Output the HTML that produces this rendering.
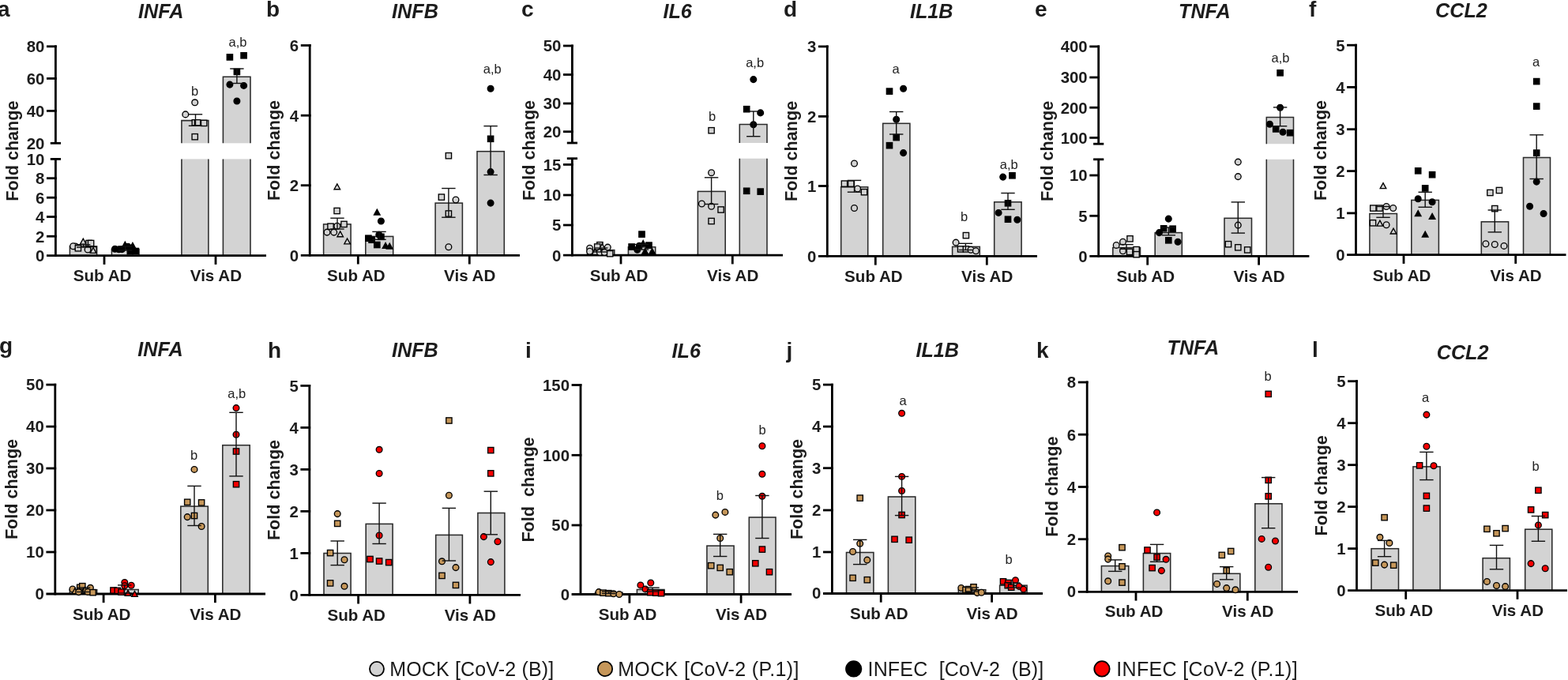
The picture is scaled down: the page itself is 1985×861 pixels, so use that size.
<!DOCTYPE html>
<html><head><meta charset="utf-8"><title>Figure</title>
<style>html,body{margin:0;padding:0;background:#fff;} svg{display:block;} text{font-family:"Liberation Sans", Arial, Helvetica, sans-serif;}</style>
</head><body>
<svg width="1985" height="861" viewBox="0 0 1985 861">
<rect width="1985" height="861" fill="#fff"/>
<text x="-3" y="21" font-size="28" font-weight="bold" text-anchor="start" fill="#1c1c1c">a</text>
<text x="203.7" y="22.9" font-size="25.2" font-weight="bold" text-anchor="middle" font-style="italic" fill="#1c1c1c">INFA</text>
<rect x="88.4" y="311.9" width="34.2" height="11.8" fill="#d3d3d3" stroke="#2b2b2b" stroke-width="1.55"/>
<rect x="141.4" y="315.5" width="34.6" height="8.2" fill="#d3d3d3" stroke="#2b2b2b" stroke-width="1.55"/>
<rect x="229.9" y="152.6" width="34" height="28.7" fill="#d3d3d3"/>
<rect x="229.9" y="201.4" width="34" height="122.3" fill="#d3d3d3"/>
<path d="M229.9,181.3V152.6H263.9V181.3M229.9,201.4V323.7M263.9,201.4V323.7" fill="none" stroke="#2b2b2b" stroke-width="1.55"/>
<rect x="282.4" y="97.3" width="34.6" height="84" fill="#d3d3d3"/>
<rect x="282.4" y="201.4" width="34.6" height="122.3" fill="#d3d3d3"/>
<path d="M282.4,181.3V97.3H317V181.3M282.4,201.4V323.7M317,201.4V323.7" fill="none" stroke="#2b2b2b" stroke-width="1.55"/>
<line x1="70.4" y1="325.1" x2="70.4" y2="201.4" stroke="#000" stroke-width="2.8"/>
<line x1="70.4" y1="181.3" x2="70.4" y2="57.4" stroke="#000" stroke-width="2.8"/>
<line x1="63.8" y1="181.3" x2="77" y2="181.3" stroke="#000" stroke-width="2.8"/>
<line x1="63.8" y1="201.4" x2="77" y2="201.4" stroke="#000" stroke-width="2.8"/>
<line x1="59" y1="58.8" x2="71.8" y2="58.8" stroke="#000" stroke-width="2.8"/>
<text x="56.4" y="66.1" font-size="20.4" font-weight="bold" text-anchor="end" fill="#1c1c1c">80</text>
<line x1="59" y1="99.4" x2="71.8" y2="99.4" stroke="#000" stroke-width="2.8"/>
<text x="56.4" y="106.7" font-size="20.4" font-weight="bold" text-anchor="end" fill="#1c1c1c">60</text>
<line x1="59" y1="140.4" x2="71.8" y2="140.4" stroke="#000" stroke-width="2.8"/>
<text x="56.4" y="147.7" font-size="20.4" font-weight="bold" text-anchor="end" fill="#1c1c1c">40</text>
<text x="56.4" y="188.6" font-size="20.4" font-weight="bold" text-anchor="end" fill="#1c1c1c">20</text>
<text x="56.4" y="208.7" font-size="20.4" font-weight="bold" text-anchor="end" fill="#1c1c1c">10</text>
<line x1="59" y1="225.7" x2="71.8" y2="225.7" stroke="#000" stroke-width="2.8"/>
<text x="56.4" y="233" font-size="20.4" font-weight="bold" text-anchor="end" fill="#1c1c1c">8</text>
<line x1="59" y1="250.2" x2="71.8" y2="250.2" stroke="#000" stroke-width="2.8"/>
<text x="56.4" y="257.5" font-size="20.4" font-weight="bold" text-anchor="end" fill="#1c1c1c">6</text>
<line x1="59" y1="274.5" x2="71.8" y2="274.5" stroke="#000" stroke-width="2.8"/>
<text x="56.4" y="281.8" font-size="20.4" font-weight="bold" text-anchor="end" fill="#1c1c1c">4</text>
<line x1="59" y1="299.2" x2="71.8" y2="299.2" stroke="#000" stroke-width="2.8"/>
<text x="56.4" y="306.5" font-size="20.4" font-weight="bold" text-anchor="end" fill="#1c1c1c">2</text>
<text x="56.4" y="331" font-size="20.4" font-weight="bold" text-anchor="end" fill="#1c1c1c">0</text>
<line x1="59" y1="323.7" x2="337" y2="323.7" stroke="#000" stroke-width="2.8"/>
<line x1="132" y1="323.7" x2="132" y2="334.9" stroke="#000" stroke-width="2.8"/>
<line x1="273" y1="323.7" x2="273" y2="334.9" stroke="#000" stroke-width="2.8"/>
<circle cx="95.5" cy="312" r="3.85" fill="#d3d3d3" stroke="#000" stroke-width="1.35"/>
<circle cx="92.6" cy="311.7" r="3.85" fill="#d3d3d3" stroke="#000" stroke-width="1.35"/>
<rect x="95.25" y="310.65" width="7.3" height="7.3" fill="#d3d3d3" stroke="#000" stroke-width="1.35"/>
<polygon points="105.3,302.2 109.1,309.1 101.5,309.1" fill="#d3d3d3" stroke="#000" stroke-width="1.35" stroke-linejoin="miter"/>
<rect x="108.85" y="304.35" width="7.3" height="7.3" fill="#d3d3d3" stroke="#000" stroke-width="1.35"/>
<rect x="111.45" y="304.35" width="7.3" height="7.3" fill="#d3d3d3" stroke="#000" stroke-width="1.35"/>
<circle cx="111.1" cy="316" r="3.85" fill="#d3d3d3" stroke="#000" stroke-width="1.35"/>
<rect x="114.85" y="312.55" width="7.3" height="7.3" fill="#d3d3d3" stroke="#000" stroke-width="1.35"/>
<polygon points="118,313.4 121.8,320.3 114.2,320.3" fill="#d3d3d3" stroke="#000" stroke-width="1.35" stroke-linejoin="miter"/>
<circle cx="145.5" cy="315.3" r="3.85" fill="#000000" stroke="#000" stroke-width="1.35"/>
<circle cx="150.5" cy="315.8" r="3.85" fill="#000000" stroke="#000" stroke-width="1.35"/>
<circle cx="154.5" cy="315.6" r="3.85" fill="#000000" stroke="#000" stroke-width="1.35"/>
<polygon points="158.3,306.2 162.1,313.1 154.5,313.1" fill="#000000" stroke="#000" stroke-width="1.35" stroke-linejoin="miter"/>
<circle cx="162" cy="312.3" r="3.85" fill="#000000" stroke="#000" stroke-width="1.35"/>
<polygon points="167.9,307.4 171.7,314.3 164.1,314.3" fill="#000000" stroke="#000" stroke-width="1.35" stroke-linejoin="miter"/>
<rect x="161.15" y="314.55" width="7.3" height="7.3" fill="#000000" stroke="#000" stroke-width="1.35"/>
<rect x="168.15" y="314.35" width="7.3" height="7.3" fill="#000000" stroke="#000" stroke-width="1.35"/>
<circle cx="246.7" cy="129.8" r="3.85" fill="#d3d3d3" stroke="#000" stroke-width="1.35"/>
<circle cx="234.8" cy="144.9" r="3.85" fill="#d3d3d3" stroke="#000" stroke-width="1.35"/>
<rect x="243.15" y="151.65" width="7.3" height="7.3" fill="#d3d3d3" stroke="#000" stroke-width="1.35"/>
<rect x="246.35" y="151.65" width="7.3" height="7.3" fill="#d3d3d3" stroke="#000" stroke-width="1.35"/>
<rect x="254.55" y="152.25" width="7.3" height="7.3" fill="#d3d3d3" stroke="#000" stroke-width="1.35"/>
<rect x="243.05" y="169.55" width="7.3" height="7.3" fill="#d3d3d3" stroke="#000" stroke-width="1.35"/>
<rect x="287.25" y="68.75" width="7.3" height="7.3" fill="#000000" stroke="#000" stroke-width="1.35"/>
<rect x="304.95" y="66.65" width="7.3" height="7.3" fill="#000000" stroke="#000" stroke-width="1.35"/>
<rect x="296.25" y="87.25" width="7.3" height="7.3" fill="#000000" stroke="#000" stroke-width="1.35"/>
<circle cx="290.9" cy="107.1" r="3.85" fill="#000000" stroke="#000" stroke-width="1.35"/>
<circle cx="308.6" cy="108.4" r="3.85" fill="#000000" stroke="#000" stroke-width="1.35"/>
<circle cx="299.9" cy="128" r="3.85" fill="#000000" stroke="#000" stroke-width="1.35"/>
<line x1="105.7" y1="309.7" x2="105.7" y2="313.1" stroke="#111" stroke-width="1.4"/>
<line x1="97" y1="309.7" x2="114.4" y2="309.7" stroke="#111" stroke-width="1.4"/>
<line x1="97" y1="313.1" x2="114.4" y2="313.1" stroke="#111" stroke-width="1.4"/>
<line x1="158.6" y1="312" x2="158.6" y2="317" stroke="#111" stroke-width="1.4"/>
<line x1="149.9" y1="312" x2="167.3" y2="312" stroke="#111" stroke-width="1.4"/>
<line x1="149.9" y1="317" x2="167.3" y2="317" stroke="#111" stroke-width="1.4"/>
<line x1="247.5" y1="144.8" x2="247.5" y2="159.3" stroke="#111" stroke-width="1.4"/>
<line x1="238.8" y1="144.8" x2="256.2" y2="144.8" stroke="#111" stroke-width="1.4"/>
<line x1="238.8" y1="159.3" x2="256.2" y2="159.3" stroke="#111" stroke-width="1.4"/>
<line x1="299.9" y1="87" x2="299.9" y2="105.5" stroke="#111" stroke-width="1.4"/>
<line x1="291.2" y1="87" x2="308.6" y2="87" stroke="#111" stroke-width="1.4"/>
<line x1="291.2" y1="105.5" x2="308.6" y2="105.5" stroke="#111" stroke-width="1.4"/>
<text x="129.6" y="356.2" font-size="20.6" font-weight="bold" text-anchor="middle" fill="#1c1c1c">Sub AD</text>
<text x="273.4" y="356.2" font-size="20.6" font-weight="bold" text-anchor="middle" fill="#1c1c1c">Vis AD</text>
<text transform="translate(22.8,191.1) rotate(-90)" font-size="21.6" font-weight="bold" text-anchor="middle" fill="#1c1c1c" xml:space="preserve">Fold change</text>
<text x="246.7" y="120.6" font-size="16.5" font-weight="normal" text-anchor="middle" fill="#222">b</text>
<text x="301" y="58.6" font-size="16.5" font-weight="normal" text-anchor="middle" fill="#222">a,b</text>
<text x="337" y="20.9" font-size="28" font-weight="bold" text-anchor="start" fill="#1c1c1c">b</text>
<text x="525.5" y="22.9" font-size="25.2" font-weight="bold" text-anchor="middle" font-style="italic" fill="#1c1c1c">INFB</text>
<rect x="409.6" y="283.9" width="34.5" height="39.4" fill="#d3d3d3" stroke="#2b2b2b" stroke-width="1.55"/>
<rect x="462.8" y="299.4" width="34.9" height="23.9" fill="#d3d3d3" stroke="#2b2b2b" stroke-width="1.55"/>
<rect x="551.1" y="257.1" width="34.3" height="66.2" fill="#d3d3d3" stroke="#2b2b2b" stroke-width="1.55"/>
<rect x="604" y="191.7" width="34.3" height="131.6" fill="#d3d3d3" stroke="#2b2b2b" stroke-width="1.55"/>
<line x1="392.2" y1="324.7" x2="392.2" y2="56.1" stroke="#000" stroke-width="2.8"/>
<line x1="380.8" y1="57.5" x2="393.6" y2="57.5" stroke="#000" stroke-width="2.8"/>
<text x="378.2" y="64.8" font-size="20.4" font-weight="bold" text-anchor="end" fill="#1c1c1c">6</text>
<line x1="380.8" y1="146.2" x2="393.6" y2="146.2" stroke="#000" stroke-width="2.8"/>
<text x="378.2" y="153.5" font-size="20.4" font-weight="bold" text-anchor="end" fill="#1c1c1c">4</text>
<line x1="380.8" y1="234.7" x2="393.6" y2="234.7" stroke="#000" stroke-width="2.8"/>
<text x="378.2" y="242" font-size="20.4" font-weight="bold" text-anchor="end" fill="#1c1c1c">2</text>
<text x="378.2" y="330.6" font-size="20.4" font-weight="bold" text-anchor="end" fill="#1c1c1c">0</text>
<line x1="380.8" y1="323.3" x2="658" y2="323.3" stroke="#000" stroke-width="2.8"/>
<line x1="453.3" y1="323.3" x2="453.3" y2="334.5" stroke="#000" stroke-width="2.8"/>
<line x1="594.3" y1="323.3" x2="594.3" y2="334.5" stroke="#000" stroke-width="2.8"/>
<polygon points="426.8,232.8 430.6,239.7 423,239.7" fill="#d3d3d3" stroke="#000" stroke-width="1.35" stroke-linejoin="miter"/>
<rect x="422.95" y="263.35" width="7.3" height="7.3" fill="#d3d3d3" stroke="#000" stroke-width="1.35"/>
<rect x="414.85" y="283.05" width="7.3" height="7.3" fill="#d3d3d3" stroke="#000" stroke-width="1.35"/>
<circle cx="426.8" cy="286.2" r="3.85" fill="#d3d3d3" stroke="#000" stroke-width="1.35"/>
<rect x="431.85" y="280.25" width="7.3" height="7.3" fill="#d3d3d3" stroke="#000" stroke-width="1.35"/>
<circle cx="414" cy="294.1" r="3.85" fill="#d3d3d3" stroke="#000" stroke-width="1.35"/>
<circle cx="422.7" cy="294.1" r="3.85" fill="#d3d3d3" stroke="#000" stroke-width="1.35"/>
<polygon points="430.7,292.8 434.5,299.7 426.9,299.7" fill="#d3d3d3" stroke="#000" stroke-width="1.35" stroke-linejoin="miter"/>
<polygon points="439.6,302 443.4,308.9 435.8,308.9" fill="#d3d3d3" stroke="#000" stroke-width="1.35" stroke-linejoin="miter"/>
<polygon points="477.3,265.1 481.1,272 473.5,272" fill="#000000" stroke="#000" stroke-width="1.35" stroke-linejoin="miter"/>
<circle cx="482.4" cy="280" r="3.85" fill="#000000" stroke="#000" stroke-width="1.35"/>
<rect x="462.75" y="298.05" width="7.3" height="7.3" fill="#000000" stroke="#000" stroke-width="1.35"/>
<rect x="466.95" y="300.05" width="7.3" height="7.3" fill="#000000" stroke="#000" stroke-width="1.35"/>
<circle cx="479.8" cy="297.3" r="3.85" fill="#000000" stroke="#000" stroke-width="1.35"/>
<rect x="478.75" y="296.15" width="7.3" height="7.3" fill="#000000" stroke="#000" stroke-width="1.35"/>
<rect x="473.65" y="306.35" width="7.3" height="7.3" fill="#000000" stroke="#000" stroke-width="1.35"/>
<polygon points="488.1,307.5 491.9,314.4 484.3,314.4" fill="#000000" stroke="#000" stroke-width="1.35" stroke-linejoin="miter"/>
<polygon points="493.2,308.2 497,315.1 489.4,315.1" fill="#000000" stroke="#000" stroke-width="1.35" stroke-linejoin="miter"/>
<rect x="564.25" y="193.55" width="7.3" height="7.3" fill="#d3d3d3" stroke="#000" stroke-width="1.35"/>
<rect x="555.25" y="245.95" width="7.3" height="7.3" fill="#d3d3d3" stroke="#000" stroke-width="1.35"/>
<circle cx="577" cy="253" r="3.85" fill="#d3d3d3" stroke="#000" stroke-width="1.35"/>
<rect x="564.25" y="266.85" width="7.3" height="7.3" fill="#d3d3d3" stroke="#000" stroke-width="1.35"/>
<circle cx="567.9" cy="312.8" r="3.85" fill="#d3d3d3" stroke="#000" stroke-width="1.35"/>
<circle cx="621.1" cy="112.3" r="3.85" fill="#000000" stroke="#000" stroke-width="1.35"/>
<rect x="617.45" y="172.15" width="7.3" height="7.3" fill="#000000" stroke="#000" stroke-width="1.35"/>
<circle cx="621.1" cy="217.6" r="3.85" fill="#000000" stroke="#000" stroke-width="1.35"/>
<circle cx="621.1" cy="257.1" r="3.85" fill="#000000" stroke="#000" stroke-width="1.35"/>
<line x1="427" y1="276.2" x2="427" y2="290" stroke="#111" stroke-width="1.4"/>
<line x1="418.3" y1="276.2" x2="435.7" y2="276.2" stroke="#111" stroke-width="1.4"/>
<line x1="418.3" y1="290" x2="435.7" y2="290" stroke="#111" stroke-width="1.4"/>
<line x1="480" y1="293.4" x2="480" y2="303.3" stroke="#111" stroke-width="1.4"/>
<line x1="471.3" y1="293.4" x2="488.7" y2="293.4" stroke="#111" stroke-width="1.4"/>
<line x1="471.3" y1="303.3" x2="488.7" y2="303.3" stroke="#111" stroke-width="1.4"/>
<line x1="567.9" y1="238.5" x2="567.9" y2="275.2" stroke="#111" stroke-width="1.4"/>
<line x1="559.2" y1="238.5" x2="576.6" y2="238.5" stroke="#111" stroke-width="1.4"/>
<line x1="559.2" y1="275.2" x2="576.6" y2="275.2" stroke="#111" stroke-width="1.4"/>
<line x1="621.1" y1="159.6" x2="621.1" y2="221.5" stroke="#111" stroke-width="1.4"/>
<line x1="612.4" y1="159.6" x2="629.8" y2="159.6" stroke="#111" stroke-width="1.4"/>
<line x1="612.4" y1="221.5" x2="629.8" y2="221.5" stroke="#111" stroke-width="1.4"/>
<text x="450.9" y="356.2" font-size="20.6" font-weight="bold" text-anchor="middle" fill="#1c1c1c">Sub AD</text>
<text x="594.7" y="356.2" font-size="20.6" font-weight="bold" text-anchor="middle" fill="#1c1c1c">Vis AD</text>
<text transform="translate(354.4,190.5) rotate(-90)" font-size="21.6" font-weight="bold" text-anchor="middle" fill="#1c1c1c" xml:space="preserve">Fold change</text>
<text x="623.3" y="92.6" font-size="16.5" font-weight="normal" text-anchor="middle" fill="#222">a,b</text>
<text x="660" y="21" font-size="28" font-weight="bold" text-anchor="start" fill="#1c1c1c">c</text>
<text x="857.7" y="22.9" font-size="25.2" font-weight="bold" text-anchor="middle" font-style="italic" fill="#1c1c1c">IL6</text>
<rect x="743.5" y="316.6" width="34.3" height="6.6" fill="#d3d3d3" stroke="#2b2b2b" stroke-width="1.55"/>
<rect x="795.4" y="312.8" width="34.3" height="10.4" fill="#d3d3d3" stroke="#2b2b2b" stroke-width="1.55"/>
<rect x="883.4" y="242.4" width="34.8" height="80.8" fill="#d3d3d3" stroke="#2b2b2b" stroke-width="1.55"/>
<rect x="936.3" y="157.4" width="34.7" height="23.6" fill="#d3d3d3"/>
<rect x="936.3" y="200.7" width="34.7" height="122.5" fill="#d3d3d3"/>
<path d="M936.3,181V157.4H971V181M936.3,200.7V323.2M971,200.7V323.2" fill="none" stroke="#2b2b2b" stroke-width="1.55"/>
<line x1="724.4" y1="324.6" x2="724.4" y2="200.7" stroke="#000" stroke-width="2.8"/>
<line x1="724.4" y1="181" x2="724.4" y2="56.6" stroke="#000" stroke-width="2.8"/>
<line x1="717.8" y1="181" x2="731" y2="181" stroke="#000" stroke-width="2.8"/>
<line x1="717.8" y1="200.7" x2="731" y2="200.7" stroke="#000" stroke-width="2.8"/>
<line x1="713" y1="58" x2="725.8" y2="58" stroke="#000" stroke-width="2.8"/>
<text x="710.4" y="65.3" font-size="20.4" font-weight="bold" text-anchor="end" fill="#1c1c1c">50</text>
<line x1="713" y1="94.5" x2="725.8" y2="94.5" stroke="#000" stroke-width="2.8"/>
<text x="710.4" y="101.8" font-size="20.4" font-weight="bold" text-anchor="end" fill="#1c1c1c">40</text>
<line x1="713" y1="131" x2="725.8" y2="131" stroke="#000" stroke-width="2.8"/>
<text x="710.4" y="138.3" font-size="20.4" font-weight="bold" text-anchor="end" fill="#1c1c1c">30</text>
<line x1="713" y1="166.7" x2="725.8" y2="166.7" stroke="#000" stroke-width="2.8"/>
<text x="710.4" y="174" font-size="20.4" font-weight="bold" text-anchor="end" fill="#1c1c1c">20</text>
<line x1="713" y1="208.4" x2="725.8" y2="208.4" stroke="#000" stroke-width="2.8"/>
<text x="710.4" y="215.7" font-size="20.4" font-weight="bold" text-anchor="end" fill="#1c1c1c">15</text>
<line x1="713" y1="247" x2="725.8" y2="247" stroke="#000" stroke-width="2.8"/>
<text x="710.4" y="254.3" font-size="20.4" font-weight="bold" text-anchor="end" fill="#1c1c1c">10</text>
<line x1="713" y1="285" x2="725.8" y2="285" stroke="#000" stroke-width="2.8"/>
<text x="710.4" y="292.3" font-size="20.4" font-weight="bold" text-anchor="end" fill="#1c1c1c">5</text>
<text x="710.4" y="330.5" font-size="20.4" font-weight="bold" text-anchor="end" fill="#1c1c1c">0</text>
<line x1="713" y1="323.2" x2="991" y2="323.2" stroke="#000" stroke-width="2.8"/>
<line x1="786" y1="323.2" x2="786" y2="334.4" stroke="#000" stroke-width="2.8"/>
<line x1="927.3" y1="323.2" x2="927.3" y2="334.4" stroke="#000" stroke-width="2.8"/>
<circle cx="746.6" cy="314.3" r="3.85" fill="#d3d3d3" stroke="#000" stroke-width="1.35"/>
<rect x="755.75" y="306.55" width="7.3" height="7.3" fill="#d3d3d3" stroke="#000" stroke-width="1.35"/>
<rect x="752.55" y="308.85" width="7.3" height="7.3" fill="#d3d3d3" stroke="#000" stroke-width="1.35"/>
<polygon points="762.3,308.7 766.1,315.6 758.5,315.6" fill="#d3d3d3" stroke="#000" stroke-width="1.35" stroke-linejoin="miter"/>
<circle cx="769.3" cy="313.1" r="3.85" fill="#d3d3d3" stroke="#000" stroke-width="1.35"/>
<polygon points="753.3,315.5 757.1,322.4 749.5,322.4" fill="#d3d3d3" stroke="#000" stroke-width="1.35" stroke-linejoin="miter"/>
<circle cx="746.6" cy="318.3" r="3.85" fill="#d3d3d3" stroke="#000" stroke-width="1.35"/>
<circle cx="759.4" cy="319.5" r="3.85" fill="#d3d3d3" stroke="#000" stroke-width="1.35"/>
<circle cx="765.2" cy="319.5" r="3.85" fill="#d3d3d3" stroke="#000" stroke-width="1.35"/>
<rect x="768.55" y="317.55" width="7.3" height="7.3" fill="#d3d3d3" stroke="#000" stroke-width="1.35"/>
<rect x="808.85" y="292.95" width="7.3" height="7.3" fill="#000000" stroke="#000" stroke-width="1.35"/>
<rect x="795.95" y="308.85" width="7.3" height="7.3" fill="#000000" stroke="#000" stroke-width="1.35"/>
<circle cx="806.8" cy="316.3" r="3.85" fill="#000000" stroke="#000" stroke-width="1.35"/>
<circle cx="809.3" cy="311.3" r="3.85" fill="#000000" stroke="#000" stroke-width="1.35"/>
<polygon points="814.2,304.5 818,311.4 810.4,311.4" fill="#000000" stroke="#000" stroke-width="1.35" stroke-linejoin="miter"/>
<rect x="817.85" y="306.95" width="7.3" height="7.3" fill="#000000" stroke="#000" stroke-width="1.35"/>
<polygon points="816.6,314.6 820.4,321.5 812.8,321.5" fill="#000000" stroke="#000" stroke-width="1.35" stroke-linejoin="miter"/>
<polygon points="825.6,314.6 829.4,321.5 821.8,321.5" fill="#000000" stroke="#000" stroke-width="1.35" stroke-linejoin="miter"/>
<rect x="896.95" y="161.55" width="7.3" height="7.3" fill="#d3d3d3" stroke="#000" stroke-width="1.35"/>
<circle cx="900.6" cy="218.7" r="3.85" fill="#d3d3d3" stroke="#000" stroke-width="1.35"/>
<circle cx="888.4" cy="258" r="3.85" fill="#d3d3d3" stroke="#000" stroke-width="1.35"/>
<circle cx="900.6" cy="261.3" r="3.85" fill="#d3d3d3" stroke="#000" stroke-width="1.35"/>
<rect x="908.95" y="261.85" width="7.3" height="7.3" fill="#d3d3d3" stroke="#000" stroke-width="1.35"/>
<rect x="896.95" y="276.35" width="7.3" height="7.3" fill="#d3d3d3" stroke="#000" stroke-width="1.35"/>
<circle cx="953.8" cy="100.6" r="3.85" fill="#000000" stroke="#000" stroke-width="1.35"/>
<rect x="941.55" y="134.55" width="7.3" height="7.3" fill="#000000" stroke="#000" stroke-width="1.35"/>
<circle cx="962.7" cy="142.9" r="3.85" fill="#000000" stroke="#000" stroke-width="1.35"/>
<circle cx="953.8" cy="157.7" r="3.85" fill="#000000" stroke="#000" stroke-width="1.35"/>
<rect x="941.55" y="238.15" width="7.3" height="7.3" fill="#000000" stroke="#000" stroke-width="1.35"/>
<rect x="959.05" y="238.95" width="7.3" height="7.3" fill="#000000" stroke="#000" stroke-width="1.35"/>
<line x1="760.7" y1="314" x2="760.7" y2="319" stroke="#111" stroke-width="1.4"/>
<line x1="752" y1="314" x2="769.4" y2="314" stroke="#111" stroke-width="1.4"/>
<line x1="752" y1="319" x2="769.4" y2="319" stroke="#111" stroke-width="1.4"/>
<line x1="812.5" y1="309.5" x2="812.5" y2="316" stroke="#111" stroke-width="1.4"/>
<line x1="803.8" y1="309.5" x2="821.2" y2="309.5" stroke="#111" stroke-width="1.4"/>
<line x1="803.8" y1="316" x2="821.2" y2="316" stroke="#111" stroke-width="1.4"/>
<line x1="900.6" y1="224.8" x2="900.6" y2="258.5" stroke="#111" stroke-width="1.4"/>
<line x1="891.9" y1="224.8" x2="909.3" y2="224.8" stroke="#111" stroke-width="1.4"/>
<line x1="891.9" y1="258.5" x2="909.3" y2="258.5" stroke="#111" stroke-width="1.4"/>
<line x1="953.8" y1="141" x2="953.8" y2="172.7" stroke="#111" stroke-width="1.4"/>
<line x1="945.1" y1="141" x2="962.5" y2="141" stroke="#111" stroke-width="1.4"/>
<line x1="945.1" y1="172.7" x2="962.5" y2="172.7" stroke="#111" stroke-width="1.4"/>
<text x="783.6" y="356.2" font-size="20.6" font-weight="bold" text-anchor="middle" fill="#1c1c1c">Sub AD</text>
<text x="927.7" y="356.2" font-size="20.6" font-weight="bold" text-anchor="middle" fill="#1c1c1c">Vis AD</text>
<text transform="translate(677,190.5) rotate(-90)" font-size="21.6" font-weight="bold" text-anchor="middle" fill="#1c1c1c" xml:space="preserve">Fold change</text>
<text x="901.5" y="152.5" font-size="16.5" font-weight="normal" text-anchor="middle" fill="#222">b</text>
<text x="955.6" y="84.8" font-size="16.5" font-weight="normal" text-anchor="middle" fill="#222">a,b</text>
<text x="992" y="21" font-size="28" font-weight="bold" text-anchor="start" fill="#1c1c1c">d</text>
<text x="1179.2" y="22.9" font-size="25.2" font-weight="bold" text-anchor="middle" font-style="italic" fill="#1c1c1c">IL1B</text>
<rect x="1064.7" y="236.8" width="34" height="87.6" fill="#d3d3d3" stroke="#2b2b2b" stroke-width="1.55"/>
<rect x="1117.7" y="156.3" width="34.2" height="168.1" fill="#d3d3d3" stroke="#2b2b2b" stroke-width="1.55"/>
<rect x="1205.6" y="312.4" width="34.7" height="12" fill="#d3d3d3" stroke="#2b2b2b" stroke-width="1.55"/>
<rect x="1258.7" y="255.8" width="34.4" height="68.6" fill="#d3d3d3" stroke="#2b2b2b" stroke-width="1.55"/>
<line x1="1047.3" y1="325.8" x2="1047.3" y2="57.5" stroke="#000" stroke-width="2.8"/>
<line x1="1035.9" y1="58.9" x2="1048.7" y2="58.9" stroke="#000" stroke-width="2.8"/>
<text x="1033.3" y="66.2" font-size="20.4" font-weight="bold" text-anchor="end" fill="#1c1c1c">3</text>
<line x1="1035.9" y1="147.4" x2="1048.7" y2="147.4" stroke="#000" stroke-width="2.8"/>
<text x="1033.3" y="154.7" font-size="20.4" font-weight="bold" text-anchor="end" fill="#1c1c1c">2</text>
<line x1="1035.9" y1="235.5" x2="1048.7" y2="235.5" stroke="#000" stroke-width="2.8"/>
<text x="1033.3" y="242.8" font-size="20.4" font-weight="bold" text-anchor="end" fill="#1c1c1c">1</text>
<text x="1033.3" y="331.7" font-size="20.4" font-weight="bold" text-anchor="end" fill="#1c1c1c">0</text>
<line x1="1035.9" y1="324.4" x2="1313" y2="324.4" stroke="#000" stroke-width="2.8"/>
<line x1="1108.3" y1="324.4" x2="1108.3" y2="335.6" stroke="#000" stroke-width="2.8"/>
<line x1="1249.3" y1="324.4" x2="1249.3" y2="335.6" stroke="#000" stroke-width="2.8"/>
<circle cx="1081.5" cy="207" r="3.85" fill="#d3d3d3" stroke="#000" stroke-width="1.35"/>
<rect x="1065.25" y="228.95" width="7.3" height="7.3" fill="#d3d3d3" stroke="#000" stroke-width="1.35"/>
<rect x="1073.65" y="228.95" width="7.3" height="7.3" fill="#d3d3d3" stroke="#000" stroke-width="1.35"/>
<circle cx="1085.6" cy="239" r="3.85" fill="#d3d3d3" stroke="#000" stroke-width="1.35"/>
<rect x="1090.35" y="239.55" width="7.3" height="7.3" fill="#d3d3d3" stroke="#000" stroke-width="1.35"/>
<circle cx="1081.5" cy="263.5" r="3.85" fill="#d3d3d3" stroke="#000" stroke-width="1.35"/>
<rect x="1122.35" y="111.95" width="7.3" height="7.3" fill="#000000" stroke="#000" stroke-width="1.35"/>
<circle cx="1143.6" cy="112.3" r="3.85" fill="#000000" stroke="#000" stroke-width="1.35"/>
<circle cx="1134.7" cy="151.3" r="3.85" fill="#000000" stroke="#000" stroke-width="1.35"/>
<rect x="1131.05" y="170.45" width="7.3" height="7.3" fill="#000000" stroke="#000" stroke-width="1.35"/>
<rect x="1122.35" y="180.55" width="7.3" height="7.3" fill="#000000" stroke="#000" stroke-width="1.35"/>
<circle cx="1143.6" cy="193.6" r="3.85" fill="#000000" stroke="#000" stroke-width="1.35"/>
<rect x="1219.25" y="294.45" width="7.3" height="7.3" fill="#d3d3d3" stroke="#000" stroke-width="1.35"/>
<circle cx="1210.1" cy="307.1" r="3.85" fill="#d3d3d3" stroke="#000" stroke-width="1.35"/>
<rect x="1212.45" y="311.75" width="7.3" height="7.3" fill="#d3d3d3" stroke="#000" stroke-width="1.35"/>
<rect x="1219.25" y="311.75" width="7.3" height="7.3" fill="#d3d3d3" stroke="#000" stroke-width="1.35"/>
<circle cx="1229" cy="316.2" r="3.85" fill="#d3d3d3" stroke="#000" stroke-width="1.35"/>
<circle cx="1235.4" cy="317.7" r="3.85" fill="#d3d3d3" stroke="#000" stroke-width="1.35"/>
<circle cx="1269.7" cy="224.1" r="3.85" fill="#000000" stroke="#000" stroke-width="1.35"/>
<rect x="1277.85" y="218.65" width="7.3" height="7.3" fill="#000000" stroke="#000" stroke-width="1.35"/>
<rect x="1272.35" y="253.65" width="7.3" height="7.3" fill="#000000" stroke="#000" stroke-width="1.35"/>
<circle cx="1264.1" cy="269.4" r="3.85" fill="#000000" stroke="#000" stroke-width="1.35"/>
<rect x="1272.35" y="274.05" width="7.3" height="7.3" fill="#000000" stroke="#000" stroke-width="1.35"/>
<circle cx="1287.8" cy="278.2" r="3.85" fill="#000000" stroke="#000" stroke-width="1.35"/>
<line x1="1081.5" y1="228.4" x2="1081.5" y2="243.2" stroke="#111" stroke-width="1.4"/>
<line x1="1072.8" y1="228.4" x2="1090.2" y2="228.4" stroke="#111" stroke-width="1.4"/>
<line x1="1072.8" y1="243.2" x2="1090.2" y2="243.2" stroke="#111" stroke-width="1.4"/>
<line x1="1134.7" y1="141.5" x2="1134.7" y2="170" stroke="#111" stroke-width="1.4"/>
<line x1="1126" y1="141.5" x2="1143.4" y2="141.5" stroke="#111" stroke-width="1.4"/>
<line x1="1126" y1="170" x2="1143.4" y2="170" stroke="#111" stroke-width="1.4"/>
<line x1="1222.4" y1="308.3" x2="1222.4" y2="316.5" stroke="#111" stroke-width="1.4"/>
<line x1="1213.7" y1="308.3" x2="1231.1" y2="308.3" stroke="#111" stroke-width="1.4"/>
<line x1="1213.7" y1="316.5" x2="1231.1" y2="316.5" stroke="#111" stroke-width="1.4"/>
<line x1="1276" y1="244.5" x2="1276" y2="265.3" stroke="#111" stroke-width="1.4"/>
<line x1="1267.3" y1="244.5" x2="1284.7" y2="244.5" stroke="#111" stroke-width="1.4"/>
<line x1="1267.3" y1="265.3" x2="1284.7" y2="265.3" stroke="#111" stroke-width="1.4"/>
<text x="1105.9" y="357" font-size="20.6" font-weight="bold" text-anchor="middle" fill="#1c1c1c">Sub AD</text>
<text x="1249.7" y="357" font-size="20.6" font-weight="bold" text-anchor="middle" fill="#1c1c1c">Vis AD</text>
<text transform="translate(1009.2,191.4) rotate(-90)" font-size="21.6" font-weight="bold" text-anchor="middle" fill="#1c1c1c" xml:space="preserve">Fold change</text>
<text x="1134" y="92.7" font-size="16.5" font-weight="normal" text-anchor="middle" fill="#222">a</text>
<text x="1220.7" y="279.8" font-size="16.5" font-weight="normal" text-anchor="middle" fill="#222">b</text>
<text x="1277.2" y="214.2" font-size="16.5" font-weight="normal" text-anchor="middle" fill="#222">a,b</text>
<text x="1310" y="21" font-size="28" font-weight="bold" text-anchor="start" fill="#1c1c1c">e</text>
<text x="1524.9" y="22.9" font-size="25.2" font-weight="bold" text-anchor="middle" font-style="italic" fill="#1c1c1c">TNFA</text>
<rect x="1408.8" y="313.5" width="34.7" height="10.9" fill="#d3d3d3" stroke="#2b2b2b" stroke-width="1.55"/>
<rect x="1462.2" y="294.6" width="34.1" height="29.8" fill="#d3d3d3" stroke="#2b2b2b" stroke-width="1.55"/>
<rect x="1550" y="276.3" width="34.5" height="48.1" fill="#d3d3d3" stroke="#2b2b2b" stroke-width="1.55"/>
<rect x="1603.3" y="148.4" width="34.2" height="33.8" fill="#d3d3d3"/>
<rect x="1603.3" y="201.8" width="34.2" height="122.6" fill="#d3d3d3"/>
<path d="M1603.3,182.2V148.4H1637.5V182.2M1603.3,201.8V324.4M1637.5,201.8V324.4" fill="none" stroke="#2b2b2b" stroke-width="1.55"/>
<line x1="1390.7" y1="325.8" x2="1390.7" y2="201.8" stroke="#000" stroke-width="2.8"/>
<line x1="1390.7" y1="182.2" x2="1390.7" y2="57.5" stroke="#000" stroke-width="2.8"/>
<line x1="1384.1" y1="182.2" x2="1397.3" y2="182.2" stroke="#000" stroke-width="2.8"/>
<line x1="1384.1" y1="201.8" x2="1397.3" y2="201.8" stroke="#000" stroke-width="2.8"/>
<line x1="1379.3" y1="58.9" x2="1392.1" y2="58.9" stroke="#000" stroke-width="2.8"/>
<text x="1376.7" y="66.2" font-size="20.4" font-weight="bold" text-anchor="end" fill="#1c1c1c">400</text>
<line x1="1379.3" y1="98" x2="1392.1" y2="98" stroke="#000" stroke-width="2.8"/>
<text x="1376.7" y="105.3" font-size="20.4" font-weight="bold" text-anchor="end" fill="#1c1c1c">300</text>
<line x1="1379.3" y1="136.2" x2="1392.1" y2="136.2" stroke="#000" stroke-width="2.8"/>
<text x="1376.7" y="143.5" font-size="20.4" font-weight="bold" text-anchor="end" fill="#1c1c1c">200</text>
<line x1="1379.3" y1="174.4" x2="1392.1" y2="174.4" stroke="#000" stroke-width="2.8"/>
<text x="1376.7" y="181.7" font-size="20.4" font-weight="bold" text-anchor="end" fill="#1c1c1c">100</text>
<line x1="1379.3" y1="222" x2="1392.1" y2="222" stroke="#000" stroke-width="2.8"/>
<text x="1376.7" y="229.3" font-size="20.4" font-weight="bold" text-anchor="end" fill="#1c1c1c">10</text>
<line x1="1379.3" y1="273.3" x2="1392.1" y2="273.3" stroke="#000" stroke-width="2.8"/>
<text x="1376.7" y="280.6" font-size="20.4" font-weight="bold" text-anchor="end" fill="#1c1c1c">5</text>
<text x="1376.7" y="331.7" font-size="20.4" font-weight="bold" text-anchor="end" fill="#1c1c1c">0</text>
<line x1="1379.3" y1="324.4" x2="1657.4" y2="324.4" stroke="#000" stroke-width="2.8"/>
<line x1="1452.7" y1="324.4" x2="1452.7" y2="335.6" stroke="#000" stroke-width="2.8"/>
<line x1="1593.6" y1="324.4" x2="1593.6" y2="335.6" stroke="#000" stroke-width="2.8"/>
<circle cx="1413.2" cy="310.4" r="3.85" fill="#d3d3d3" stroke="#000" stroke-width="1.35"/>
<circle cx="1421.5" cy="306.3" r="3.85" fill="#d3d3d3" stroke="#000" stroke-width="1.35"/>
<rect x="1426.85" y="298.65" width="7.3" height="7.3" fill="#d3d3d3" stroke="#000" stroke-width="1.35"/>
<circle cx="1421.5" cy="317.7" r="3.85" fill="#d3d3d3" stroke="#000" stroke-width="1.35"/>
<rect x="1426.45" y="315.25" width="7.3" height="7.3" fill="#d3d3d3" stroke="#000" stroke-width="1.35"/>
<rect x="1434.95" y="312.45" width="7.3" height="7.3" fill="#d3d3d3" stroke="#000" stroke-width="1.35"/>
<rect x="1434.95" y="318.55" width="7.3" height="7.3" fill="#d3d3d3" stroke="#000" stroke-width="1.35"/>
<circle cx="1479.3" cy="277.1" r="3.85" fill="#000000" stroke="#000" stroke-width="1.35"/>
<rect x="1469.55" y="285.65" width="7.3" height="7.3" fill="#000000" stroke="#000" stroke-width="1.35"/>
<rect x="1480.95" y="286.05" width="7.3" height="7.3" fill="#000000" stroke="#000" stroke-width="1.35"/>
<circle cx="1467.5" cy="294.6" r="3.85" fill="#000000" stroke="#000" stroke-width="1.35"/>
<rect x="1475.65" y="300.65" width="7.3" height="7.3" fill="#000000" stroke="#000" stroke-width="1.35"/>
<circle cx="1491.1" cy="306.3" r="3.85" fill="#000000" stroke="#000" stroke-width="1.35"/>
<circle cx="1567.3" cy="205.1" r="3.85" fill="#d3d3d3" stroke="#000" stroke-width="1.35"/>
<circle cx="1567.3" cy="223.6" r="3.85" fill="#d3d3d3" stroke="#000" stroke-width="1.35"/>
<circle cx="1567.3" cy="285.1" r="3.85" fill="#d3d3d3" stroke="#000" stroke-width="1.35"/>
<rect x="1551.35" y="305.55" width="7.3" height="7.3" fill="#d3d3d3" stroke="#000" stroke-width="1.35"/>
<rect x="1563.65" y="309.65" width="7.3" height="7.3" fill="#d3d3d3" stroke="#000" stroke-width="1.35"/>
<rect x="1575.55" y="312.75" width="7.3" height="7.3" fill="#d3d3d3" stroke="#000" stroke-width="1.35"/>
<rect x="1616.95" y="88.65" width="7.3" height="7.3" fill="#000000" stroke="#000" stroke-width="1.35"/>
<circle cx="1620.6" cy="136.2" r="3.85" fill="#000000" stroke="#000" stroke-width="1.35"/>
<circle cx="1607.4" cy="157.2" r="3.85" fill="#000000" stroke="#000" stroke-width="1.35"/>
<rect x="1611.55" y="159.75" width="7.3" height="7.3" fill="#000000" stroke="#000" stroke-width="1.35"/>
<circle cx="1624" cy="167.2" r="3.85" fill="#000000" stroke="#000" stroke-width="1.35"/>
<rect x="1629.45" y="164.55" width="7.3" height="7.3" fill="#000000" stroke="#000" stroke-width="1.35"/>
<line x1="1426" y1="309.6" x2="1426" y2="315.3" stroke="#111" stroke-width="1.4"/>
<line x1="1417.3" y1="309.6" x2="1434.7" y2="309.6" stroke="#111" stroke-width="1.4"/>
<line x1="1417.3" y1="315.3" x2="1434.7" y2="315.3" stroke="#111" stroke-width="1.4"/>
<line x1="1479.3" y1="288" x2="1479.3" y2="297.8" stroke="#111" stroke-width="1.4"/>
<line x1="1470.6" y1="288" x2="1488" y2="288" stroke="#111" stroke-width="1.4"/>
<line x1="1470.6" y1="297.8" x2="1488" y2="297.8" stroke="#111" stroke-width="1.4"/>
<line x1="1567.3" y1="255.9" x2="1567.3" y2="295.1" stroke="#111" stroke-width="1.4"/>
<line x1="1558.6" y1="255.9" x2="1576" y2="255.9" stroke="#111" stroke-width="1.4"/>
<line x1="1558.6" y1="295.1" x2="1576" y2="295.1" stroke="#111" stroke-width="1.4"/>
<line x1="1620.6" y1="135.9" x2="1620.6" y2="159.7" stroke="#111" stroke-width="1.4"/>
<line x1="1611.9" y1="135.9" x2="1629.3" y2="135.9" stroke="#111" stroke-width="1.4"/>
<line x1="1611.9" y1="159.7" x2="1629.3" y2="159.7" stroke="#111" stroke-width="1.4"/>
<text x="1450.3" y="356.8" font-size="20.6" font-weight="bold" text-anchor="middle" fill="#1c1c1c">Sub AD</text>
<text x="1594" y="356.8" font-size="20.6" font-weight="bold" text-anchor="middle" fill="#1c1c1c">Vis AD</text>
<text transform="translate(1332.7,191.4) rotate(-90)" font-size="21.6" font-weight="bold" text-anchor="middle" fill="#1c1c1c" xml:space="preserve">Fold change</text>
<text x="1621" y="78.6" font-size="16.5" font-weight="normal" text-anchor="middle" fill="#222">a,b</text>
<text x="1657" y="21" font-size="28" font-weight="bold" text-anchor="start" fill="#1c1c1c">f</text>
<text x="1850" y="22.2" font-size="25.2" font-weight="bold" text-anchor="middle" font-style="italic" fill="#1c1c1c">CCL2</text>
<rect x="1733.9" y="270.5" width="34.5" height="52.2" fill="#d3d3d3" stroke="#2b2b2b" stroke-width="1.55"/>
<rect x="1786.8" y="253.4" width="34.6" height="69.3" fill="#d3d3d3" stroke="#2b2b2b" stroke-width="1.55"/>
<rect x="1875.3" y="280.8" width="34.3" height="41.9" fill="#d3d3d3" stroke="#2b2b2b" stroke-width="1.55"/>
<rect x="1928.5" y="199.5" width="34" height="123.2" fill="#d3d3d3" stroke="#2b2b2b" stroke-width="1.55"/>
<line x1="1716.5" y1="324.1" x2="1716.5" y2="55.8" stroke="#000" stroke-width="2.8"/>
<line x1="1705.1" y1="57.2" x2="1717.9" y2="57.2" stroke="#000" stroke-width="2.8"/>
<text x="1702.5" y="64.5" font-size="20.4" font-weight="bold" text-anchor="end" fill="#1c1c1c">5</text>
<line x1="1705.1" y1="110.4" x2="1717.9" y2="110.4" stroke="#000" stroke-width="2.8"/>
<text x="1702.5" y="117.7" font-size="20.4" font-weight="bold" text-anchor="end" fill="#1c1c1c">4</text>
<line x1="1705.1" y1="163.7" x2="1717.9" y2="163.7" stroke="#000" stroke-width="2.8"/>
<text x="1702.5" y="171" font-size="20.4" font-weight="bold" text-anchor="end" fill="#1c1c1c">3</text>
<line x1="1705.1" y1="216.6" x2="1717.9" y2="216.6" stroke="#000" stroke-width="2.8"/>
<text x="1702.5" y="223.9" font-size="20.4" font-weight="bold" text-anchor="end" fill="#1c1c1c">2</text>
<line x1="1705.1" y1="269.9" x2="1717.9" y2="269.9" stroke="#000" stroke-width="2.8"/>
<text x="1702.5" y="277.2" font-size="20.4" font-weight="bold" text-anchor="end" fill="#1c1c1c">1</text>
<text x="1702.5" y="330" font-size="20.4" font-weight="bold" text-anchor="end" fill="#1c1c1c">0</text>
<line x1="1705.1" y1="322.7" x2="1982.5" y2="322.7" stroke="#000" stroke-width="2.8"/>
<line x1="1777" y1="322.7" x2="1777" y2="333.9" stroke="#000" stroke-width="2.8"/>
<line x1="1918.7" y1="322.7" x2="1918.7" y2="333.9" stroke="#000" stroke-width="2.8"/>
<polygon points="1751,231.7 1754.8,238.6 1747.2,238.6" fill="#d3d3d3" stroke="#000" stroke-width="1.35" stroke-linejoin="miter"/>
<rect x="1734.65" y="259.95" width="7.3" height="7.3" fill="#d3d3d3" stroke="#000" stroke-width="1.35"/>
<rect x="1742.85" y="259.95" width="7.3" height="7.3" fill="#d3d3d3" stroke="#000" stroke-width="1.35"/>
<circle cx="1755.1" cy="261.5" r="3.85" fill="#d3d3d3" stroke="#000" stroke-width="1.35"/>
<circle cx="1763.7" cy="263.5" r="3.85" fill="#d3d3d3" stroke="#000" stroke-width="1.35"/>
<rect x="1734.35" y="278.65" width="7.3" height="7.3" fill="#d3d3d3" stroke="#000" stroke-width="1.35"/>
<polygon points="1746.9,279.2 1750.7,286.1 1743.1,286.1" fill="#d3d3d3" stroke="#000" stroke-width="1.35" stroke-linejoin="miter"/>
<circle cx="1755.1" cy="284.8" r="3.85" fill="#d3d3d3" stroke="#000" stroke-width="1.35"/>
<polygon points="1764,289.1 1767.8,296 1760.2,296" fill="#d3d3d3" stroke="#000" stroke-width="1.35" stroke-linejoin="miter"/>
<rect x="1791.55" y="212.65" width="7.3" height="7.3" fill="#000000" stroke="#000" stroke-width="1.35"/>
<rect x="1809.45" y="217.55" width="7.3" height="7.3" fill="#000000" stroke="#000" stroke-width="1.35"/>
<rect x="1800.55" y="234.75" width="7.3" height="7.3" fill="#000000" stroke="#000" stroke-width="1.35"/>
<circle cx="1795.2" cy="251.8" r="3.85" fill="#000000" stroke="#000" stroke-width="1.35"/>
<circle cx="1813.1" cy="255.8" r="3.85" fill="#000000" stroke="#000" stroke-width="1.35"/>
<polygon points="1795.2,266.7 1799,273.6 1791.4,273.6" fill="#000000" stroke="#000" stroke-width="1.35" stroke-linejoin="miter"/>
<polygon points="1813.1,270.4 1816.9,277.3 1809.3,277.3" fill="#000000" stroke="#000" stroke-width="1.35" stroke-linejoin="miter"/>
<polygon points="1804.2,293.2 1808,300.1 1800.4,300.1" fill="#000000" stroke="#000" stroke-width="1.35" stroke-linejoin="miter"/>
<rect x="1882.75" y="240.35" width="7.3" height="7.3" fill="#d3d3d3" stroke="#000" stroke-width="1.35"/>
<rect x="1894.25" y="237.35" width="7.3" height="7.3" fill="#d3d3d3" stroke="#000" stroke-width="1.35"/>
<rect x="1888.65" y="260.45" width="7.3" height="7.3" fill="#d3d3d3" stroke="#000" stroke-width="1.35"/>
<circle cx="1880.9" cy="308.7" r="3.85" fill="#d3d3d3" stroke="#000" stroke-width="1.35"/>
<circle cx="1892.3" cy="309.5" r="3.85" fill="#d3d3d3" stroke="#000" stroke-width="1.35"/>
<circle cx="1904" cy="311.4" r="3.85" fill="#d3d3d3" stroke="#000" stroke-width="1.35"/>
<rect x="1941.55" y="99.45" width="7.3" height="7.3" fill="#000000" stroke="#000" stroke-width="1.35"/>
<rect x="1941.55" y="130.95" width="7.3" height="7.3" fill="#000000" stroke="#000" stroke-width="1.35"/>
<rect x="1941.55" y="189.95" width="7.3" height="7.3" fill="#000000" stroke="#000" stroke-width="1.35"/>
<circle cx="1945.2" cy="230.1" r="3.85" fill="#000000" stroke="#000" stroke-width="1.35"/>
<circle cx="1936.6" cy="261.3" r="3.85" fill="#000000" stroke="#000" stroke-width="1.35"/>
<circle cx="1954.1" cy="270.5" r="3.85" fill="#000000" stroke="#000" stroke-width="1.35"/>
<line x1="1751" y1="261.5" x2="1751" y2="275.3" stroke="#111" stroke-width="1.4"/>
<line x1="1742.3" y1="261.5" x2="1759.7" y2="261.5" stroke="#111" stroke-width="1.4"/>
<line x1="1742.3" y1="275.3" x2="1759.7" y2="275.3" stroke="#111" stroke-width="1.4"/>
<line x1="1804.2" y1="243.3" x2="1804.2" y2="262.3" stroke="#111" stroke-width="1.4"/>
<line x1="1795.5" y1="243.3" x2="1812.9" y2="243.3" stroke="#111" stroke-width="1.4"/>
<line x1="1795.5" y1="262.3" x2="1812.9" y2="262.3" stroke="#111" stroke-width="1.4"/>
<line x1="1892.3" y1="266" x2="1892.3" y2="293.9" stroke="#111" stroke-width="1.4"/>
<line x1="1883.6" y1="266" x2="1901" y2="266" stroke="#111" stroke-width="1.4"/>
<line x1="1883.6" y1="293.9" x2="1901" y2="293.9" stroke="#111" stroke-width="1.4"/>
<line x1="1945.2" y1="170.8" x2="1945.2" y2="226.5" stroke="#111" stroke-width="1.4"/>
<line x1="1936.5" y1="170.8" x2="1953.9" y2="170.8" stroke="#111" stroke-width="1.4"/>
<line x1="1936.5" y1="226.5" x2="1953.9" y2="226.5" stroke="#111" stroke-width="1.4"/>
<text x="1774.6" y="355.5" font-size="20.6" font-weight="bold" text-anchor="middle" fill="#1c1c1c">Sub AD</text>
<text x="1919.1" y="355.5" font-size="20.6" font-weight="bold" text-anchor="middle" fill="#1c1c1c">Vis AD</text>
<text transform="translate(1678.8,190.5) rotate(-90)" font-size="21.6" font-weight="bold" text-anchor="middle" fill="#1c1c1c" xml:space="preserve">Fold change</text>
<text x="1944.7" y="84.3" font-size="16.5" font-weight="normal" text-anchor="middle" fill="#222">a</text>
<text x="-1" y="447.4" font-size="28" font-weight="bold" text-anchor="start" fill="#1c1c1c">g</text>
<text x="203" y="451.2" font-size="25.2" font-weight="bold" text-anchor="middle" font-style="italic" fill="#1c1c1c">INFA</text>
<rect x="88.3" y="746.7" width="34.4" height="5.3" fill="#d3d3d3" stroke="#2b2b2b" stroke-width="1.55"/>
<rect x="140.4" y="746.5" width="34.8" height="5.5" fill="#d3d3d3" stroke="#2b2b2b" stroke-width="1.55"/>
<rect x="228.8" y="641.1" width="34.5" height="110.9" fill="#d3d3d3" stroke="#2b2b2b" stroke-width="1.55"/>
<rect x="281.8" y="563.7" width="34.4" height="188.3" fill="#d3d3d3" stroke="#2b2b2b" stroke-width="1.55"/>
<line x1="69.8" y1="753.4" x2="69.8" y2="485.7" stroke="#000" stroke-width="2.8"/>
<line x1="58.4" y1="487.1" x2="71.2" y2="487.1" stroke="#000" stroke-width="2.8"/>
<text x="55.8" y="494.4" font-size="20.4" font-weight="bold" text-anchor="end" fill="#1c1c1c">50</text>
<line x1="58.4" y1="540.1" x2="71.2" y2="540.1" stroke="#000" stroke-width="2.8"/>
<text x="55.8" y="547.4" font-size="20.4" font-weight="bold" text-anchor="end" fill="#1c1c1c">40</text>
<line x1="58.4" y1="593" x2="71.2" y2="593" stroke="#000" stroke-width="2.8"/>
<text x="55.8" y="600.3" font-size="20.4" font-weight="bold" text-anchor="end" fill="#1c1c1c">30</text>
<line x1="58.4" y1="646" x2="71.2" y2="646" stroke="#000" stroke-width="2.8"/>
<text x="55.8" y="653.3" font-size="20.4" font-weight="bold" text-anchor="end" fill="#1c1c1c">20</text>
<line x1="58.4" y1="699" x2="71.2" y2="699" stroke="#000" stroke-width="2.8"/>
<text x="55.8" y="706.3" font-size="20.4" font-weight="bold" text-anchor="end" fill="#1c1c1c">10</text>
<text x="55.8" y="759.3" font-size="20.4" font-weight="bold" text-anchor="end" fill="#1c1c1c">0</text>
<line x1="58.4" y1="752" x2="336" y2="752" stroke="#000" stroke-width="2.8"/>
<line x1="131.1" y1="752" x2="131.1" y2="763.2" stroke="#000" stroke-width="2.8"/>
<line x1="272.4" y1="752" x2="272.4" y2="763.2" stroke="#000" stroke-width="2.8"/>
<circle cx="91.9" cy="745.9" r="3.85" fill="#c6975a" stroke="#000" stroke-width="1.35"/>
<polygon points="94.8,744.8 98.6,751.7 91,751.7" fill="#c6975a" stroke="#000" stroke-width="1.35" stroke-linejoin="miter"/>
<rect x="97.55" y="740.15" width="7.3" height="7.3" fill="#c6975a" stroke="#000" stroke-width="1.35"/>
<rect x="100.65" y="738.55" width="7.3" height="7.3" fill="#c6975a" stroke="#000" stroke-width="1.35"/>
<polygon points="107.5,743.2 111.3,750.1 103.7,750.1" fill="#c6975a" stroke="#000" stroke-width="1.35" stroke-linejoin="miter"/>
<circle cx="114.4" cy="744.3" r="3.85" fill="#c6975a" stroke="#000" stroke-width="1.35"/>
<circle cx="111.2" cy="749.4" r="3.85" fill="#c6975a" stroke="#000" stroke-width="1.35"/>
<circle cx="99.6" cy="749.6" r="3.85" fill="#c6975a" stroke="#000" stroke-width="1.35"/>
<rect x="113.95" y="746.55" width="7.3" height="7.3" fill="#c6975a" stroke="#000" stroke-width="1.35"/>
<rect x="139.85" y="743.85" width="7.3" height="7.3" fill="#fa0000" stroke="#000" stroke-width="1.35"/>
<rect x="145.15" y="744.15" width="7.3" height="7.3" fill="#fa0000" stroke="#000" stroke-width="1.35"/>
<rect x="149.85" y="745.95" width="7.3" height="7.3" fill="#fa0000" stroke="#000" stroke-width="1.35"/>
<circle cx="157.8" cy="737.5" r="3.85" fill="#fa0000" stroke="#000" stroke-width="1.35"/>
<circle cx="157.8" cy="741.7" r="3.85" fill="#fa0000" stroke="#000" stroke-width="1.35"/>
<circle cx="166.2" cy="741.2" r="3.85" fill="#fa0000" stroke="#000" stroke-width="1.35"/>
<polygon points="162,747.4 165.8,754.3 158.2,754.3" fill="#fa0000" stroke="#000" stroke-width="1.35" stroke-linejoin="miter"/>
<polygon points="170.5,748.5 174.3,755.4 166.7,755.4" fill="#fa0000" stroke="#000" stroke-width="1.35" stroke-linejoin="miter"/>
<circle cx="246" cy="594.4" r="3.85" fill="#c6975a" stroke="#000" stroke-width="1.35"/>
<rect x="233.55" y="632.15" width="7.3" height="7.3" fill="#c6975a" stroke="#000" stroke-width="1.35"/>
<rect x="251.45" y="632.75" width="7.3" height="7.3" fill="#c6975a" stroke="#000" stroke-width="1.35"/>
<rect x="242.35" y="649.35" width="7.3" height="7.3" fill="#c6975a" stroke="#000" stroke-width="1.35"/>
<circle cx="237.2" cy="654.6" r="3.85" fill="#c6975a" stroke="#000" stroke-width="1.35"/>
<circle cx="255.1" cy="666.5" r="3.85" fill="#c6975a" stroke="#000" stroke-width="1.35"/>
<circle cx="299" cy="516.6" r="3.85" fill="#fa0000" stroke="#000" stroke-width="1.35"/>
<circle cx="299" cy="550.2" r="3.85" fill="#fa0000" stroke="#000" stroke-width="1.35"/>
<rect x="295.35" y="567.85" width="7.3" height="7.3" fill="#fa0000" stroke="#000" stroke-width="1.35"/>
<rect x="295.35" y="609.55" width="7.3" height="7.3" fill="#fa0000" stroke="#000" stroke-width="1.35"/>
<line x1="105.5" y1="744" x2="105.5" y2="749.5" stroke="#111" stroke-width="1.4"/>
<line x1="96.8" y1="744" x2="114.2" y2="744" stroke="#111" stroke-width="1.4"/>
<line x1="96.8" y1="749.5" x2="114.2" y2="749.5" stroke="#111" stroke-width="1.4"/>
<line x1="157.7" y1="740.9" x2="157.7" y2="751" stroke="#111" stroke-width="1.4"/>
<line x1="149" y1="740.9" x2="166.4" y2="740.9" stroke="#111" stroke-width="1.4"/>
<line x1="149" y1="751" x2="166.4" y2="751" stroke="#111" stroke-width="1.4"/>
<line x1="246" y1="615.4" x2="246" y2="665.5" stroke="#111" stroke-width="1.4"/>
<line x1="237.3" y1="615.4" x2="254.7" y2="615.4" stroke="#111" stroke-width="1.4"/>
<line x1="237.3" y1="665.5" x2="254.7" y2="665.5" stroke="#111" stroke-width="1.4"/>
<line x1="299" y1="522.3" x2="299" y2="602.9" stroke="#111" stroke-width="1.4"/>
<line x1="290.3" y1="522.3" x2="307.7" y2="522.3" stroke="#111" stroke-width="1.4"/>
<line x1="290.3" y1="602.9" x2="307.7" y2="602.9" stroke="#111" stroke-width="1.4"/>
<text x="128.7" y="784.5" font-size="20.6" font-weight="bold" text-anchor="middle" fill="#1c1c1c">Sub AD</text>
<text x="272.8" y="784.5" font-size="20.6" font-weight="bold" text-anchor="middle" fill="#1c1c1c">Vis AD</text>
<text transform="translate(22,619.5) rotate(-90)" font-size="21.6" font-weight="bold" text-anchor="middle" fill="#1c1c1c" xml:space="preserve">Fold change</text>
<text x="245.5" y="581.5" font-size="16.5" font-weight="normal" text-anchor="middle" fill="#222">b</text>
<text x="299.7" y="503.8" font-size="16.5" font-weight="normal" text-anchor="middle" fill="#222">a,b</text>
<text x="339" y="453" font-size="28" font-weight="bold" text-anchor="start" fill="#1c1c1c">h</text>
<text x="525.4" y="452.3" font-size="25.2" font-weight="bold" text-anchor="middle" font-style="italic" fill="#1c1c1c">INFB</text>
<rect x="410" y="700.5" width="34.1" height="52.8" fill="#d3d3d3" stroke="#2b2b2b" stroke-width="1.55"/>
<rect x="463.2" y="663.4" width="33.9" height="89.9" fill="#d3d3d3" stroke="#2b2b2b" stroke-width="1.55"/>
<rect x="551.7" y="677.4" width="33.7" height="75.9" fill="#d3d3d3" stroke="#2b2b2b" stroke-width="1.55"/>
<rect x="604.9" y="649.5" width="34" height="103.8" fill="#d3d3d3" stroke="#2b2b2b" stroke-width="1.55"/>
<line x1="391.8" y1="754.7" x2="391.8" y2="487" stroke="#000" stroke-width="2.8"/>
<line x1="380.4" y1="488.4" x2="393.2" y2="488.4" stroke="#000" stroke-width="2.8"/>
<text x="377.8" y="495.7" font-size="20.4" font-weight="bold" text-anchor="end" fill="#1c1c1c">5</text>
<line x1="380.4" y1="541.4" x2="393.2" y2="541.4" stroke="#000" stroke-width="2.8"/>
<text x="377.8" y="548.7" font-size="20.4" font-weight="bold" text-anchor="end" fill="#1c1c1c">4</text>
<line x1="380.4" y1="594.4" x2="393.2" y2="594.4" stroke="#000" stroke-width="2.8"/>
<text x="377.8" y="601.7" font-size="20.4" font-weight="bold" text-anchor="end" fill="#1c1c1c">3</text>
<line x1="380.4" y1="647.4" x2="393.2" y2="647.4" stroke="#000" stroke-width="2.8"/>
<text x="377.8" y="654.7" font-size="20.4" font-weight="bold" text-anchor="end" fill="#1c1c1c">2</text>
<line x1="380.4" y1="700.4" x2="393.2" y2="700.4" stroke="#000" stroke-width="2.8"/>
<text x="377.8" y="707.7" font-size="20.4" font-weight="bold" text-anchor="end" fill="#1c1c1c">1</text>
<text x="377.8" y="760.6" font-size="20.4" font-weight="bold" text-anchor="end" fill="#1c1c1c">0</text>
<line x1="380.4" y1="753.3" x2="659" y2="753.3" stroke="#000" stroke-width="2.8"/>
<line x1="453.6" y1="753.3" x2="453.6" y2="764.5" stroke="#000" stroke-width="2.8"/>
<line x1="594.9" y1="753.3" x2="594.9" y2="764.5" stroke="#000" stroke-width="2.8"/>
<circle cx="427.2" cy="650.6" r="3.85" fill="#c6975a" stroke="#000" stroke-width="1.35"/>
<rect x="423.55" y="659.25" width="7.3" height="7.3" fill="#c6975a" stroke="#000" stroke-width="1.35"/>
<rect x="414.45" y="696.45" width="7.3" height="7.3" fill="#c6975a" stroke="#000" stroke-width="1.35"/>
<circle cx="436" cy="708.7" r="3.85" fill="#c6975a" stroke="#000" stroke-width="1.35"/>
<rect x="414.45" y="734.75" width="7.3" height="7.3" fill="#c6975a" stroke="#000" stroke-width="1.35"/>
<circle cx="436" cy="742.3" r="3.85" fill="#c6975a" stroke="#000" stroke-width="1.35"/>
<circle cx="480.1" cy="569.3" r="3.85" fill="#fa0000" stroke="#000" stroke-width="1.35"/>
<circle cx="480.1" cy="599.5" r="3.85" fill="#fa0000" stroke="#000" stroke-width="1.35"/>
<circle cx="480.1" cy="678" r="3.85" fill="#fa0000" stroke="#000" stroke-width="1.35"/>
<rect x="464.85" y="704.35" width="7.3" height="7.3" fill="#fa0000" stroke="#000" stroke-width="1.35"/>
<rect x="476.45" y="706.85" width="7.3" height="7.3" fill="#fa0000" stroke="#000" stroke-width="1.35"/>
<rect x="488.55" y="708.45" width="7.3" height="7.3" fill="#fa0000" stroke="#000" stroke-width="1.35"/>
<rect x="564.75" y="528.85" width="7.3" height="7.3" fill="#c6975a" stroke="#000" stroke-width="1.35"/>
<circle cx="568.4" cy="627.2" r="3.85" fill="#c6975a" stroke="#000" stroke-width="1.35"/>
<circle cx="559.5" cy="710.8" r="3.85" fill="#c6975a" stroke="#000" stroke-width="1.35"/>
<circle cx="577" cy="718.6" r="3.85" fill="#c6975a" stroke="#000" stroke-width="1.35"/>
<rect x="555.85" y="725.25" width="7.3" height="7.3" fill="#c6975a" stroke="#000" stroke-width="1.35"/>
<rect x="573.35" y="737.25" width="7.3" height="7.3" fill="#c6975a" stroke="#000" stroke-width="1.35"/>
<rect x="617.65" y="566.45" width="7.3" height="7.3" fill="#fa0000" stroke="#000" stroke-width="1.35"/>
<rect x="617.65" y="595.75" width="7.3" height="7.3" fill="#fa0000" stroke="#000" stroke-width="1.35"/>
<circle cx="612.4" cy="679.6" r="3.85" fill="#fa0000" stroke="#000" stroke-width="1.35"/>
<circle cx="630" cy="685.7" r="3.85" fill="#fa0000" stroke="#000" stroke-width="1.35"/>
<circle cx="621.3" cy="711.6" r="3.85" fill="#fa0000" stroke="#000" stroke-width="1.35"/>
<line x1="427.2" y1="685" x2="427.2" y2="715.6" stroke="#111" stroke-width="1.4"/>
<line x1="418.5" y1="685" x2="435.9" y2="685" stroke="#111" stroke-width="1.4"/>
<line x1="418.5" y1="715.6" x2="435.9" y2="715.6" stroke="#111" stroke-width="1.4"/>
<line x1="480.1" y1="637.1" x2="480.1" y2="688.5" stroke="#111" stroke-width="1.4"/>
<line x1="471.4" y1="637.1" x2="488.8" y2="637.1" stroke="#111" stroke-width="1.4"/>
<line x1="471.4" y1="688.5" x2="488.8" y2="688.5" stroke="#111" stroke-width="1.4"/>
<line x1="568.4" y1="643.4" x2="568.4" y2="710" stroke="#111" stroke-width="1.4"/>
<line x1="559.7" y1="643.4" x2="577.1" y2="643.4" stroke="#111" stroke-width="1.4"/>
<line x1="559.7" y1="710" x2="577.1" y2="710" stroke="#111" stroke-width="1.4"/>
<line x1="621.3" y1="622.2" x2="621.3" y2="676.8" stroke="#111" stroke-width="1.4"/>
<line x1="612.6" y1="622.2" x2="630" y2="622.2" stroke="#111" stroke-width="1.4"/>
<line x1="612.6" y1="676.8" x2="630" y2="676.8" stroke="#111" stroke-width="1.4"/>
<text x="451.2" y="785.8" font-size="20.6" font-weight="bold" text-anchor="middle" fill="#1c1c1c">Sub AD</text>
<text x="595.3" y="785.8" font-size="20.6" font-weight="bold" text-anchor="middle" fill="#1c1c1c">Vis AD</text>
<text transform="translate(354.4,620.5) rotate(-90)" font-size="21.6" font-weight="bold" text-anchor="middle" fill="#1c1c1c" xml:space="preserve">Fold change</text>
<text x="665" y="453" font-size="28" font-weight="bold" text-anchor="start" fill="#1c1c1c">i</text>
<text x="868.8" y="453" font-size="25.2" font-weight="bold" text-anchor="middle" font-style="italic" fill="#1c1c1c">IL6</text>
<rect x="753.5" y="750.2" width="34.5" height="2.3" fill="#d3d3d3" stroke="#2b2b2b" stroke-width="1.55"/>
<rect x="806.4" y="746.5" width="34.6" height="6" fill="#d3d3d3" stroke="#2b2b2b" stroke-width="1.55"/>
<rect x="894.9" y="691.1" width="34.2" height="61.4" fill="#d3d3d3" stroke="#2b2b2b" stroke-width="1.55"/>
<rect x="948.3" y="655" width="33.7" height="97.5" fill="#d3d3d3" stroke="#2b2b2b" stroke-width="1.55"/>
<line x1="735" y1="753.9" x2="735" y2="486.1" stroke="#000" stroke-width="2.8"/>
<line x1="723.6" y1="487.5" x2="736.4" y2="487.5" stroke="#000" stroke-width="2.8"/>
<text x="721" y="494.8" font-size="20.4" font-weight="bold" text-anchor="end" fill="#1c1c1c">150</text>
<line x1="723.6" y1="576.3" x2="736.4" y2="576.3" stroke="#000" stroke-width="2.8"/>
<text x="721" y="583.6" font-size="20.4" font-weight="bold" text-anchor="end" fill="#1c1c1c">100</text>
<line x1="723.6" y1="665" x2="736.4" y2="665" stroke="#000" stroke-width="2.8"/>
<text x="721" y="672.3" font-size="20.4" font-weight="bold" text-anchor="end" fill="#1c1c1c">50</text>
<text x="721" y="759.8" font-size="20.4" font-weight="bold" text-anchor="end" fill="#1c1c1c">0</text>
<line x1="723.6" y1="752.5" x2="1002" y2="752.5" stroke="#000" stroke-width="2.8"/>
<line x1="796.9" y1="752.5" x2="796.9" y2="763.7" stroke="#000" stroke-width="2.8"/>
<line x1="938.1" y1="752.5" x2="938.1" y2="763.7" stroke="#000" stroke-width="2.8"/>
<circle cx="758" cy="749.6" r="3.85" fill="#c6975a" stroke="#000" stroke-width="1.35"/>
<rect x="759.85" y="747.05" width="7.3" height="7.3" fill="#c6975a" stroke="#000" stroke-width="1.35"/>
<rect x="766.75" y="747.55" width="7.3" height="7.3" fill="#c6975a" stroke="#000" stroke-width="1.35"/>
<circle cx="776.7" cy="751.7" r="3.85" fill="#c6975a" stroke="#000" stroke-width="1.35"/>
<circle cx="783.9" cy="752.5" r="3.85" fill="#c6975a" stroke="#000" stroke-width="1.35"/>
<circle cx="810.9" cy="740.9" r="3.85" fill="#fa0000" stroke="#000" stroke-width="1.35"/>
<circle cx="823.8" cy="738" r="3.85" fill="#fa0000" stroke="#000" stroke-width="1.35"/>
<circle cx="817" cy="745.9" r="3.85" fill="#fa0000" stroke="#000" stroke-width="1.35"/>
<rect x="819.65" y="746.55" width="7.3" height="7.3" fill="#fa0000" stroke="#000" stroke-width="1.35"/>
<rect x="826.55" y="747.05" width="7.3" height="7.3" fill="#fa0000" stroke="#000" stroke-width="1.35"/>
<rect x="833.45" y="747.55" width="7.3" height="7.3" fill="#fa0000" stroke="#000" stroke-width="1.35"/>
<circle cx="905.8" cy="652.1" r="3.85" fill="#c6975a" stroke="#000" stroke-width="1.35"/>
<circle cx="917.9" cy="648.4" r="3.85" fill="#c6975a" stroke="#000" stroke-width="1.35"/>
<circle cx="911.7" cy="681.5" r="3.85" fill="#c6975a" stroke="#000" stroke-width="1.35"/>
<rect x="896.55" y="712.55" width="7.3" height="7.3" fill="#c6975a" stroke="#000" stroke-width="1.35"/>
<rect x="908.05" y="715.25" width="7.3" height="7.3" fill="#c6975a" stroke="#000" stroke-width="1.35"/>
<rect x="920.05" y="720.55" width="7.3" height="7.3" fill="#c6975a" stroke="#000" stroke-width="1.35"/>
<circle cx="964.9" cy="564.7" r="3.85" fill="#fa0000" stroke="#000" stroke-width="1.35"/>
<circle cx="964.9" cy="600.3" r="3.85" fill="#fa0000" stroke="#000" stroke-width="1.35"/>
<circle cx="964.9" cy="628.3" r="3.85" fill="#fa0000" stroke="#000" stroke-width="1.35"/>
<rect x="961.25" y="691.95" width="7.3" height="7.3" fill="#fa0000" stroke="#000" stroke-width="1.35"/>
<rect x="952.65" y="709.65" width="7.3" height="7.3" fill="#fa0000" stroke="#000" stroke-width="1.35"/>
<rect x="970.35" y="720.55" width="7.3" height="7.3" fill="#fa0000" stroke="#000" stroke-width="1.35"/>
<line x1="770.7" y1="749" x2="770.7" y2="751.5" stroke="#111" stroke-width="1.4"/>
<line x1="762" y1="749" x2="779.4" y2="749" stroke="#111" stroke-width="1.4"/>
<line x1="762" y1="751.5" x2="779.4" y2="751.5" stroke="#111" stroke-width="1.4"/>
<line x1="826" y1="744.1" x2="826" y2="749" stroke="#111" stroke-width="1.4"/>
<line x1="817.3" y1="744.1" x2="834.7" y2="744.1" stroke="#111" stroke-width="1.4"/>
<line x1="817.3" y1="749" x2="834.7" y2="749" stroke="#111" stroke-width="1.4"/>
<line x1="911.7" y1="676.4" x2="911.7" y2="704.5" stroke="#111" stroke-width="1.4"/>
<line x1="903" y1="676.4" x2="920.4" y2="676.4" stroke="#111" stroke-width="1.4"/>
<line x1="903" y1="704.5" x2="920.4" y2="704.5" stroke="#111" stroke-width="1.4"/>
<line x1="964.9" y1="627.5" x2="964.9" y2="681.5" stroke="#111" stroke-width="1.4"/>
<line x1="956.2" y1="627.5" x2="973.6" y2="627.5" stroke="#111" stroke-width="1.4"/>
<line x1="956.2" y1="681.5" x2="973.6" y2="681.5" stroke="#111" stroke-width="1.4"/>
<text x="794.5" y="785" font-size="20.6" font-weight="bold" text-anchor="middle" fill="#1c1c1c">Sub AD</text>
<text x="938.5" y="785" font-size="20.6" font-weight="bold" text-anchor="middle" fill="#1c1c1c">Vis AD</text>
<text transform="translate(676.4,620) rotate(-90)" font-size="21.6" font-weight="bold" text-anchor="middle" fill="#1c1c1c" xml:space="preserve">Fold&#160; change</text>
<text x="911.3" y="632.5" font-size="16.5" font-weight="normal" text-anchor="middle" fill="#222">b</text>
<text x="965" y="550" font-size="16.5" font-weight="normal" text-anchor="middle" fill="#222">b</text>
<text x="995.5" y="453" font-size="28" font-weight="bold" text-anchor="start" fill="#1c1c1c">j</text>
<text x="1186.7" y="451.8" font-size="25.2" font-weight="bold" text-anchor="middle" font-style="italic" fill="#1c1c1c">IL1B</text>
<rect x="1071.5" y="699.5" width="34.4" height="52" fill="#d3d3d3" stroke="#2b2b2b" stroke-width="1.55"/>
<rect x="1124.4" y="629" width="34.4" height="122.5" fill="#d3d3d3" stroke="#2b2b2b" stroke-width="1.55"/>
<rect x="1213.3" y="746.7" width="34.5" height="4.8" fill="#d3d3d3" stroke="#2b2b2b" stroke-width="1.55"/>
<rect x="1265.6" y="741.2" width="34.5" height="10.3" fill="#d3d3d3" stroke="#2b2b2b" stroke-width="1.55"/>
<line x1="1053.4" y1="752.9" x2="1053.4" y2="485.7" stroke="#000" stroke-width="2.8"/>
<line x1="1042" y1="487.1" x2="1054.8" y2="487.1" stroke="#000" stroke-width="2.8"/>
<text x="1039.4" y="494.4" font-size="20.4" font-weight="bold" text-anchor="end" fill="#1c1c1c">5</text>
<line x1="1042" y1="540.1" x2="1054.8" y2="540.1" stroke="#000" stroke-width="2.8"/>
<text x="1039.4" y="547.4" font-size="20.4" font-weight="bold" text-anchor="end" fill="#1c1c1c">4</text>
<line x1="1042" y1="592.7" x2="1054.8" y2="592.7" stroke="#000" stroke-width="2.8"/>
<text x="1039.4" y="600" font-size="20.4" font-weight="bold" text-anchor="end" fill="#1c1c1c">3</text>
<line x1="1042" y1="646" x2="1054.8" y2="646" stroke="#000" stroke-width="2.8"/>
<text x="1039.4" y="653.3" font-size="20.4" font-weight="bold" text-anchor="end" fill="#1c1c1c">2</text>
<line x1="1042" y1="699" x2="1054.8" y2="699" stroke="#000" stroke-width="2.8"/>
<text x="1039.4" y="706.3" font-size="20.4" font-weight="bold" text-anchor="end" fill="#1c1c1c">1</text>
<text x="1039.4" y="758.4" font-size="20.4" font-weight="bold" text-anchor="end" fill="#1c1c1c">0</text>
<line x1="1042" y1="751.5" x2="1320" y2="751.5" stroke="#000" stroke-width="2.8"/>
<line x1="1115.2" y1="751.5" x2="1115.2" y2="762.7" stroke="#000" stroke-width="2.8"/>
<line x1="1255.6" y1="751.5" x2="1255.6" y2="762.7" stroke="#000" stroke-width="2.8"/>
<rect x="1085.05" y="626.95" width="7.3" height="7.3" fill="#c6975a" stroke="#000" stroke-width="1.35"/>
<circle cx="1088.7" cy="688.3" r="3.85" fill="#c6975a" stroke="#000" stroke-width="1.35"/>
<circle cx="1079.6" cy="698.5" r="3.85" fill="#c6975a" stroke="#000" stroke-width="1.35"/>
<circle cx="1097.8" cy="709.1" r="3.85" fill="#c6975a" stroke="#000" stroke-width="1.35"/>
<rect x="1075.95" y="728.15" width="7.3" height="7.3" fill="#c6975a" stroke="#000" stroke-width="1.35"/>
<rect x="1094.15" y="730.55" width="7.3" height="7.3" fill="#c6975a" stroke="#000" stroke-width="1.35"/>
<circle cx="1141.6" cy="523.3" r="3.85" fill="#fa0000" stroke="#000" stroke-width="1.35"/>
<circle cx="1141.6" cy="603.4" r="3.85" fill="#fa0000" stroke="#000" stroke-width="1.35"/>
<circle cx="1141.6" cy="621.5" r="3.85" fill="#fa0000" stroke="#000" stroke-width="1.35"/>
<rect x="1137.95" y="648.35" width="7.3" height="7.3" fill="#fa0000" stroke="#000" stroke-width="1.35"/>
<rect x="1128.85" y="679.15" width="7.3" height="7.3" fill="#fa0000" stroke="#000" stroke-width="1.35"/>
<rect x="1147.05" y="680.05" width="7.3" height="7.3" fill="#fa0000" stroke="#000" stroke-width="1.35"/>
<circle cx="1216.8" cy="744.5" r="3.85" fill="#c6975a" stroke="#000" stroke-width="1.35"/>
<rect x="1218.85" y="743.25" width="7.3" height="7.3" fill="#c6975a" stroke="#000" stroke-width="1.35"/>
<rect x="1222.45" y="742.45" width="7.3" height="7.3" fill="#c6975a" stroke="#000" stroke-width="1.35"/>
<rect x="1228.85" y="739.65" width="7.3" height="7.3" fill="#c6975a" stroke="#000" stroke-width="1.35"/>
<circle cx="1237.1" cy="750.6" r="3.85" fill="#c6975a" stroke="#000" stroke-width="1.35"/>
<circle cx="1242.4" cy="750.2" r="3.85" fill="#c6975a" stroke="#000" stroke-width="1.35"/>
<rect x="1266.35" y="732.65" width="7.3" height="7.3" fill="#fa0000" stroke="#000" stroke-width="1.35"/>
<rect x="1272.85" y="734.35" width="7.3" height="7.3" fill="#fa0000" stroke="#000" stroke-width="1.35"/>
<rect x="1272.05" y="737.55" width="7.3" height="7.3" fill="#fa0000" stroke="#000" stroke-width="1.35"/>
<rect x="1276.55" y="740.05" width="7.3" height="7.3" fill="#fa0000" stroke="#000" stroke-width="1.35"/>
<circle cx="1285.5" cy="734.7" r="3.85" fill="#fa0000" stroke="#000" stroke-width="1.35"/>
<circle cx="1290" cy="742.4" r="3.85" fill="#fa0000" stroke="#000" stroke-width="1.35"/>
<circle cx="1295.7" cy="746.1" r="3.85" fill="#fa0000" stroke="#000" stroke-width="1.35"/>
<line x1="1088.7" y1="683.4" x2="1088.7" y2="714.6" stroke="#111" stroke-width="1.4"/>
<line x1="1080" y1="683.4" x2="1097.4" y2="683.4" stroke="#111" stroke-width="1.4"/>
<line x1="1080" y1="714.6" x2="1097.4" y2="714.6" stroke="#111" stroke-width="1.4"/>
<line x1="1141.6" y1="603.4" x2="1141.6" y2="652.6" stroke="#111" stroke-width="1.4"/>
<line x1="1132.9" y1="603.4" x2="1150.3" y2="603.4" stroke="#111" stroke-width="1.4"/>
<line x1="1132.9" y1="652.6" x2="1150.3" y2="652.6" stroke="#111" stroke-width="1.4"/>
<line x1="1230.5" y1="744" x2="1230.5" y2="749" stroke="#111" stroke-width="1.4"/>
<line x1="1221.8" y1="744" x2="1239.2" y2="744" stroke="#111" stroke-width="1.4"/>
<line x1="1221.8" y1="749" x2="1239.2" y2="749" stroke="#111" stroke-width="1.4"/>
<line x1="1282.8" y1="738" x2="1282.8" y2="744" stroke="#111" stroke-width="1.4"/>
<line x1="1274.1" y1="738" x2="1291.5" y2="738" stroke="#111" stroke-width="1.4"/>
<line x1="1274.1" y1="744" x2="1291.5" y2="744" stroke="#111" stroke-width="1.4"/>
<text x="1112.8" y="783.6" font-size="20.6" font-weight="bold" text-anchor="middle" fill="#1c1c1c">Sub AD</text>
<text x="1256" y="783.6" font-size="20.6" font-weight="bold" text-anchor="middle" fill="#1c1c1c">Vis AD</text>
<text transform="translate(1015.7,619.5) rotate(-90)" font-size="21.6" font-weight="bold" text-anchor="middle" fill="#1c1c1c" xml:space="preserve">Fold change</text>
<text x="1143.1" y="513.1" font-size="16.5" font-weight="normal" text-anchor="middle" fill="#222">a</text>
<text x="1277" y="714.3" font-size="16.5" font-weight="normal" text-anchor="middle" fill="#222">b</text>
<text x="1312" y="453" font-size="28" font-weight="bold" text-anchor="start" fill="#1c1c1c">k</text>
<text x="1510.4" y="448.5" font-size="25.2" font-weight="bold" text-anchor="middle" font-style="italic" fill="#1c1c1c">TNFA</text>
<rect x="1394.4" y="716.6" width="34.4" height="32.8" fill="#d3d3d3" stroke="#2b2b2b" stroke-width="1.55"/>
<rect x="1447.4" y="700.6" width="34.3" height="48.8" fill="#d3d3d3" stroke="#2b2b2b" stroke-width="1.55"/>
<rect x="1535.4" y="726.3" width="34.5" height="23.1" fill="#d3d3d3" stroke="#2b2b2b" stroke-width="1.55"/>
<rect x="1588.8" y="637.8" width="34.2" height="111.6" fill="#d3d3d3" stroke="#2b2b2b" stroke-width="1.55"/>
<line x1="1376.2" y1="750.8" x2="1376.2" y2="482.6" stroke="#000" stroke-width="2.8"/>
<line x1="1364.8" y1="484" x2="1377.6" y2="484" stroke="#000" stroke-width="2.8"/>
<text x="1362.2" y="491.3" font-size="20.4" font-weight="bold" text-anchor="end" fill="#1c1c1c">8</text>
<line x1="1364.8" y1="550.2" x2="1377.6" y2="550.2" stroke="#000" stroke-width="2.8"/>
<text x="1362.2" y="557.5" font-size="20.4" font-weight="bold" text-anchor="end" fill="#1c1c1c">6</text>
<line x1="1364.8" y1="616.5" x2="1377.6" y2="616.5" stroke="#000" stroke-width="2.8"/>
<text x="1362.2" y="623.8" font-size="20.4" font-weight="bold" text-anchor="end" fill="#1c1c1c">4</text>
<line x1="1364.8" y1="682.7" x2="1377.6" y2="682.7" stroke="#000" stroke-width="2.8"/>
<text x="1362.2" y="690" font-size="20.4" font-weight="bold" text-anchor="end" fill="#1c1c1c">2</text>
<text x="1362.2" y="756.2" font-size="20.4" font-weight="bold" text-anchor="end" fill="#1c1c1c">0</text>
<line x1="1364.8" y1="749.4" x2="1643" y2="749.4" stroke="#000" stroke-width="2.8"/>
<line x1="1438" y1="749.4" x2="1438" y2="760.6" stroke="#000" stroke-width="2.8"/>
<line x1="1579.3" y1="749.4" x2="1579.3" y2="760.6" stroke="#000" stroke-width="2.8"/>
<rect x="1416.85" y="689.55" width="7.3" height="7.3" fill="#c6975a" stroke="#000" stroke-width="1.35"/>
<circle cx="1402.7" cy="704" r="3.85" fill="#c6975a" stroke="#000" stroke-width="1.35"/>
<circle cx="1402.7" cy="708.1" r="3.85" fill="#c6975a" stroke="#000" stroke-width="1.35"/>
<rect x="1416.85" y="713.65" width="7.3" height="7.3" fill="#c6975a" stroke="#000" stroke-width="1.35"/>
<circle cx="1402.7" cy="735.8" r="3.85" fill="#c6975a" stroke="#000" stroke-width="1.35"/>
<rect x="1416.85" y="733.95" width="7.3" height="7.3" fill="#c6975a" stroke="#000" stroke-width="1.35"/>
<circle cx="1464.6" cy="648.9" r="3.85" fill="#fa0000" stroke="#000" stroke-width="1.35"/>
<rect x="1448.85" y="692.85" width="7.3" height="7.3" fill="#fa0000" stroke="#000" stroke-width="1.35"/>
<rect x="1460.95" y="701.85" width="7.3" height="7.3" fill="#fa0000" stroke="#000" stroke-width="1.35"/>
<circle cx="1476.1" cy="708.3" r="3.85" fill="#fa0000" stroke="#000" stroke-width="1.35"/>
<rect x="1454.95" y="715.45" width="7.3" height="7.3" fill="#fa0000" stroke="#000" stroke-width="1.35"/>
<circle cx="1470.4" cy="722.6" r="3.85" fill="#fa0000" stroke="#000" stroke-width="1.35"/>
<rect x="1543.15" y="699.25" width="7.3" height="7.3" fill="#c6975a" stroke="#000" stroke-width="1.35"/>
<rect x="1554.55" y="694.35" width="7.3" height="7.3" fill="#c6975a" stroke="#000" stroke-width="1.35"/>
<rect x="1549.05" y="718.75" width="7.3" height="7.3" fill="#c6975a" stroke="#000" stroke-width="1.35"/>
<circle cx="1540.6" cy="739.4" r="3.85" fill="#c6975a" stroke="#000" stroke-width="1.35"/>
<circle cx="1552.7" cy="744.6" r="3.85" fill="#c6975a" stroke="#000" stroke-width="1.35"/>
<circle cx="1564" cy="746.8" r="3.85" fill="#c6975a" stroke="#000" stroke-width="1.35"/>
<rect x="1602.05" y="495.25" width="7.3" height="7.3" fill="#fa0000" stroke="#000" stroke-width="1.35"/>
<rect x="1602.05" y="604.25" width="7.3" height="7.3" fill="#fa0000" stroke="#000" stroke-width="1.35"/>
<rect x="1602.05" y="624.75" width="7.3" height="7.3" fill="#fa0000" stroke="#000" stroke-width="1.35"/>
<circle cx="1597.2" cy="682.4" r="3.85" fill="#fa0000" stroke="#000" stroke-width="1.35"/>
<circle cx="1614.5" cy="685" r="3.85" fill="#fa0000" stroke="#000" stroke-width="1.35"/>
<circle cx="1605.7" cy="718.2" r="3.85" fill="#fa0000" stroke="#000" stroke-width="1.35"/>
<line x1="1411.7" y1="708.9" x2="1411.7" y2="723.4" stroke="#111" stroke-width="1.4"/>
<line x1="1403" y1="708.9" x2="1420.4" y2="708.9" stroke="#111" stroke-width="1.4"/>
<line x1="1403" y1="723.4" x2="1420.4" y2="723.4" stroke="#111" stroke-width="1.4"/>
<line x1="1464.6" y1="689.4" x2="1464.6" y2="711.3" stroke="#111" stroke-width="1.4"/>
<line x1="1455.9" y1="689.4" x2="1473.3" y2="689.4" stroke="#111" stroke-width="1.4"/>
<line x1="1455.9" y1="711.3" x2="1473.3" y2="711.3" stroke="#111" stroke-width="1.4"/>
<line x1="1552.7" y1="717.6" x2="1552.7" y2="733.8" stroke="#111" stroke-width="1.4"/>
<line x1="1544" y1="717.6" x2="1561.4" y2="717.6" stroke="#111" stroke-width="1.4"/>
<line x1="1544" y1="733.8" x2="1561.4" y2="733.8" stroke="#111" stroke-width="1.4"/>
<line x1="1605.7" y1="604.6" x2="1605.7" y2="668.7" stroke="#111" stroke-width="1.4"/>
<line x1="1597" y1="604.6" x2="1614.4" y2="604.6" stroke="#111" stroke-width="1.4"/>
<line x1="1597" y1="668.7" x2="1614.4" y2="668.7" stroke="#111" stroke-width="1.4"/>
<text x="1435.6" y="781.4" font-size="20.6" font-weight="bold" text-anchor="middle" fill="#1c1c1c">Sub AD</text>
<text x="1579.7" y="781.4" font-size="20.6" font-weight="bold" text-anchor="middle" fill="#1c1c1c">Vis AD</text>
<text transform="translate(1338.8,616.1) rotate(-90)" font-size="21.6" font-weight="bold" text-anchor="middle" fill="#1c1c1c" xml:space="preserve">Fold change</text>
<text x="1605" y="482.4" font-size="16.5" font-weight="normal" text-anchor="middle" fill="#222">b</text>
<text x="1661" y="451.8" font-size="28" font-weight="bold" text-anchor="start" fill="#1c1c1c">l</text>
<text x="1851.6" y="455.3" font-size="25.2" font-weight="bold" text-anchor="middle" font-style="italic" fill="#1c1c1c">CCL2</text>
<rect x="1736" y="694.7" width="34.5" height="52.9" fill="#d3d3d3" stroke="#2b2b2b" stroke-width="1.55"/>
<rect x="1788.9" y="590.9" width="34.2" height="156.7" fill="#d3d3d3" stroke="#2b2b2b" stroke-width="1.55"/>
<rect x="1877.1" y="706.7" width="34.3" height="40.9" fill="#d3d3d3" stroke="#2b2b2b" stroke-width="1.55"/>
<rect x="1930.7" y="670.2" width="34.1" height="77.4" fill="#d3d3d3" stroke="#2b2b2b" stroke-width="1.55"/>
<line x1="1717.5" y1="749" x2="1717.5" y2="481.3" stroke="#000" stroke-width="2.8"/>
<line x1="1706.1" y1="482.7" x2="1718.9" y2="482.7" stroke="#000" stroke-width="2.8"/>
<text x="1703.5" y="490" font-size="20.4" font-weight="bold" text-anchor="end" fill="#1c1c1c">5</text>
<line x1="1706.1" y1="535.7" x2="1718.9" y2="535.7" stroke="#000" stroke-width="2.8"/>
<text x="1703.5" y="543" font-size="20.4" font-weight="bold" text-anchor="end" fill="#1c1c1c">4</text>
<line x1="1706.1" y1="588.7" x2="1718.9" y2="588.7" stroke="#000" stroke-width="2.8"/>
<text x="1703.5" y="596" font-size="20.4" font-weight="bold" text-anchor="end" fill="#1c1c1c">3</text>
<line x1="1706.1" y1="641.6" x2="1718.9" y2="641.6" stroke="#000" stroke-width="2.8"/>
<text x="1703.5" y="648.9" font-size="20.4" font-weight="bold" text-anchor="end" fill="#1c1c1c">2</text>
<line x1="1706.1" y1="694.6" x2="1718.9" y2="694.6" stroke="#000" stroke-width="2.8"/>
<text x="1703.5" y="701.9" font-size="20.4" font-weight="bold" text-anchor="end" fill="#1c1c1c">1</text>
<text x="1703.5" y="754.9" font-size="20.4" font-weight="bold" text-anchor="end" fill="#1c1c1c">0</text>
<line x1="1706.1" y1="747.6" x2="1984" y2="747.6" stroke="#000" stroke-width="2.8"/>
<line x1="1779.7" y1="747.6" x2="1779.7" y2="758.8" stroke="#000" stroke-width="2.8"/>
<line x1="1921" y1="747.6" x2="1921" y2="758.8" stroke="#000" stroke-width="2.8"/>
<rect x="1748.95" y="651.55" width="7.3" height="7.3" fill="#c6975a" stroke="#000" stroke-width="1.35"/>
<circle cx="1746.9" cy="680.3" r="3.85" fill="#c6975a" stroke="#000" stroke-width="1.35"/>
<circle cx="1758.9" cy="687.5" r="3.85" fill="#c6975a" stroke="#000" stroke-width="1.35"/>
<rect x="1737.65" y="708.95" width="7.3" height="7.3" fill="#c6975a" stroke="#000" stroke-width="1.35"/>
<circle cx="1752.6" cy="715.1" r="3.85" fill="#c6975a" stroke="#000" stroke-width="1.35"/>
<rect x="1760.55" y="712.05" width="7.3" height="7.3" fill="#c6975a" stroke="#000" stroke-width="1.35"/>
<circle cx="1805.9" cy="525.1" r="3.85" fill="#fa0000" stroke="#000" stroke-width="1.35"/>
<circle cx="1805.9" cy="565.2" r="3.85" fill="#fa0000" stroke="#000" stroke-width="1.35"/>
<rect x="1793.45" y="585.75" width="7.3" height="7.3" fill="#fa0000" stroke="#000" stroke-width="1.35"/>
<circle cx="1815" cy="589.7" r="3.85" fill="#fa0000" stroke="#000" stroke-width="1.35"/>
<rect x="1802.25" y="624.25" width="7.3" height="7.3" fill="#fa0000" stroke="#000" stroke-width="1.35"/>
<rect x="1802.25" y="639.95" width="7.3" height="7.3" fill="#fa0000" stroke="#000" stroke-width="1.35"/>
<rect x="1878.75" y="666.15" width="7.3" height="7.3" fill="#c6975a" stroke="#000" stroke-width="1.35"/>
<rect x="1890.85" y="671.65" width="7.3" height="7.3" fill="#c6975a" stroke="#000" stroke-width="1.35"/>
<rect x="1901.95" y="665.45" width="7.3" height="7.3" fill="#c6975a" stroke="#000" stroke-width="1.35"/>
<circle cx="1882.4" cy="736.4" r="3.85" fill="#c6975a" stroke="#000" stroke-width="1.35"/>
<circle cx="1894.5" cy="741.5" r="3.85" fill="#c6975a" stroke="#000" stroke-width="1.35"/>
<circle cx="1905.6" cy="742.6" r="3.85" fill="#c6975a" stroke="#000" stroke-width="1.35"/>
<rect x="1943.75" y="617.15" width="7.3" height="7.3" fill="#fa0000" stroke="#000" stroke-width="1.35"/>
<rect x="1934.45" y="641.75" width="7.3" height="7.3" fill="#fa0000" stroke="#000" stroke-width="1.35"/>
<rect x="1952.55" y="648.45" width="7.3" height="7.3" fill="#fa0000" stroke="#000" stroke-width="1.35"/>
<circle cx="1947.4" cy="664.9" r="3.85" fill="#fa0000" stroke="#000" stroke-width="1.35"/>
<circle cx="1938.1" cy="713.6" r="3.85" fill="#fa0000" stroke="#000" stroke-width="1.35"/>
<circle cx="1956.2" cy="719.7" r="3.85" fill="#fa0000" stroke="#000" stroke-width="1.35"/>
<line x1="1752.6" y1="684.4" x2="1752.6" y2="704.7" stroke="#111" stroke-width="1.4"/>
<line x1="1743.9" y1="684.4" x2="1761.3" y2="684.4" stroke="#111" stroke-width="1.4"/>
<line x1="1743.9" y1="704.7" x2="1761.3" y2="704.7" stroke="#111" stroke-width="1.4"/>
<line x1="1805.9" y1="572.4" x2="1805.9" y2="607.6" stroke="#111" stroke-width="1.4"/>
<line x1="1797.2" y1="572.4" x2="1814.6" y2="572.4" stroke="#111" stroke-width="1.4"/>
<line x1="1797.2" y1="607.6" x2="1814.6" y2="607.6" stroke="#111" stroke-width="1.4"/>
<line x1="1894.5" y1="690.4" x2="1894.5" y2="720.8" stroke="#111" stroke-width="1.4"/>
<line x1="1885.8" y1="690.4" x2="1903.2" y2="690.4" stroke="#111" stroke-width="1.4"/>
<line x1="1885.8" y1="720.8" x2="1903.2" y2="720.8" stroke="#111" stroke-width="1.4"/>
<line x1="1947.4" y1="653.5" x2="1947.4" y2="685.3" stroke="#111" stroke-width="1.4"/>
<line x1="1938.7" y1="653.5" x2="1956.1" y2="653.5" stroke="#111" stroke-width="1.4"/>
<line x1="1938.7" y1="685.3" x2="1956.1" y2="685.3" stroke="#111" stroke-width="1.4"/>
<text x="1777.3" y="780.1" font-size="20.6" font-weight="bold" text-anchor="middle" fill="#1c1c1c">Sub AD</text>
<text x="1921.4" y="780.1" font-size="20.6" font-weight="bold" text-anchor="middle" fill="#1c1c1c">Vis AD</text>
<text transform="translate(1679.8,614.9) rotate(-90)" font-size="21.6" font-weight="bold" text-anchor="middle" fill="#1c1c1c" xml:space="preserve">Fold change</text>
<text x="1804.5" y="508.7" font-size="16.5" font-weight="normal" text-anchor="middle" fill="#222">a</text>
<text x="1944.1" y="595.5" font-size="16.5" font-weight="normal" text-anchor="middle" fill="#222">b</text>
<circle cx="477" cy="846.9" r="9.0" fill="#d3d3d3" stroke="#000" stroke-width="1.8"/>
<text x="493.2" y="855.8" font-size="25" font-weight="normal" letter-spacing="0.16" fill="#1a1a1a">MOCK [CoV-2 (B)]</text>
<circle cx="766" cy="846.9" r="9.2" fill="#c6975a" stroke="#000" stroke-width="1.8"/>
<text x="782.2" y="855.8" font-size="25" font-weight="normal" letter-spacing="0.35" fill="#1a1a1a">MOCK [CoV-2 (P.1)]</text>
<circle cx="1080.7" cy="846.9" r="9.7" fill="#000" stroke="#000" stroke-width="1.8"/>
<text x="1098.5" y="855.8" font-size="25" font-weight="normal" letter-spacing="0.18" fill="#1a1a1a">INFEC&#160; [CoV-2&#160; (B)]</text>
<circle cx="1395" cy="846.9" r="9.7" fill="#fa0000" stroke="#000" stroke-width="1.8"/>
<text x="1413.3" y="855.8" font-size="25" font-weight="normal" letter-spacing="0.34" fill="#1a1a1a">INFEC [CoV-2 (P.1)]</text>
</svg>
</body></html>
